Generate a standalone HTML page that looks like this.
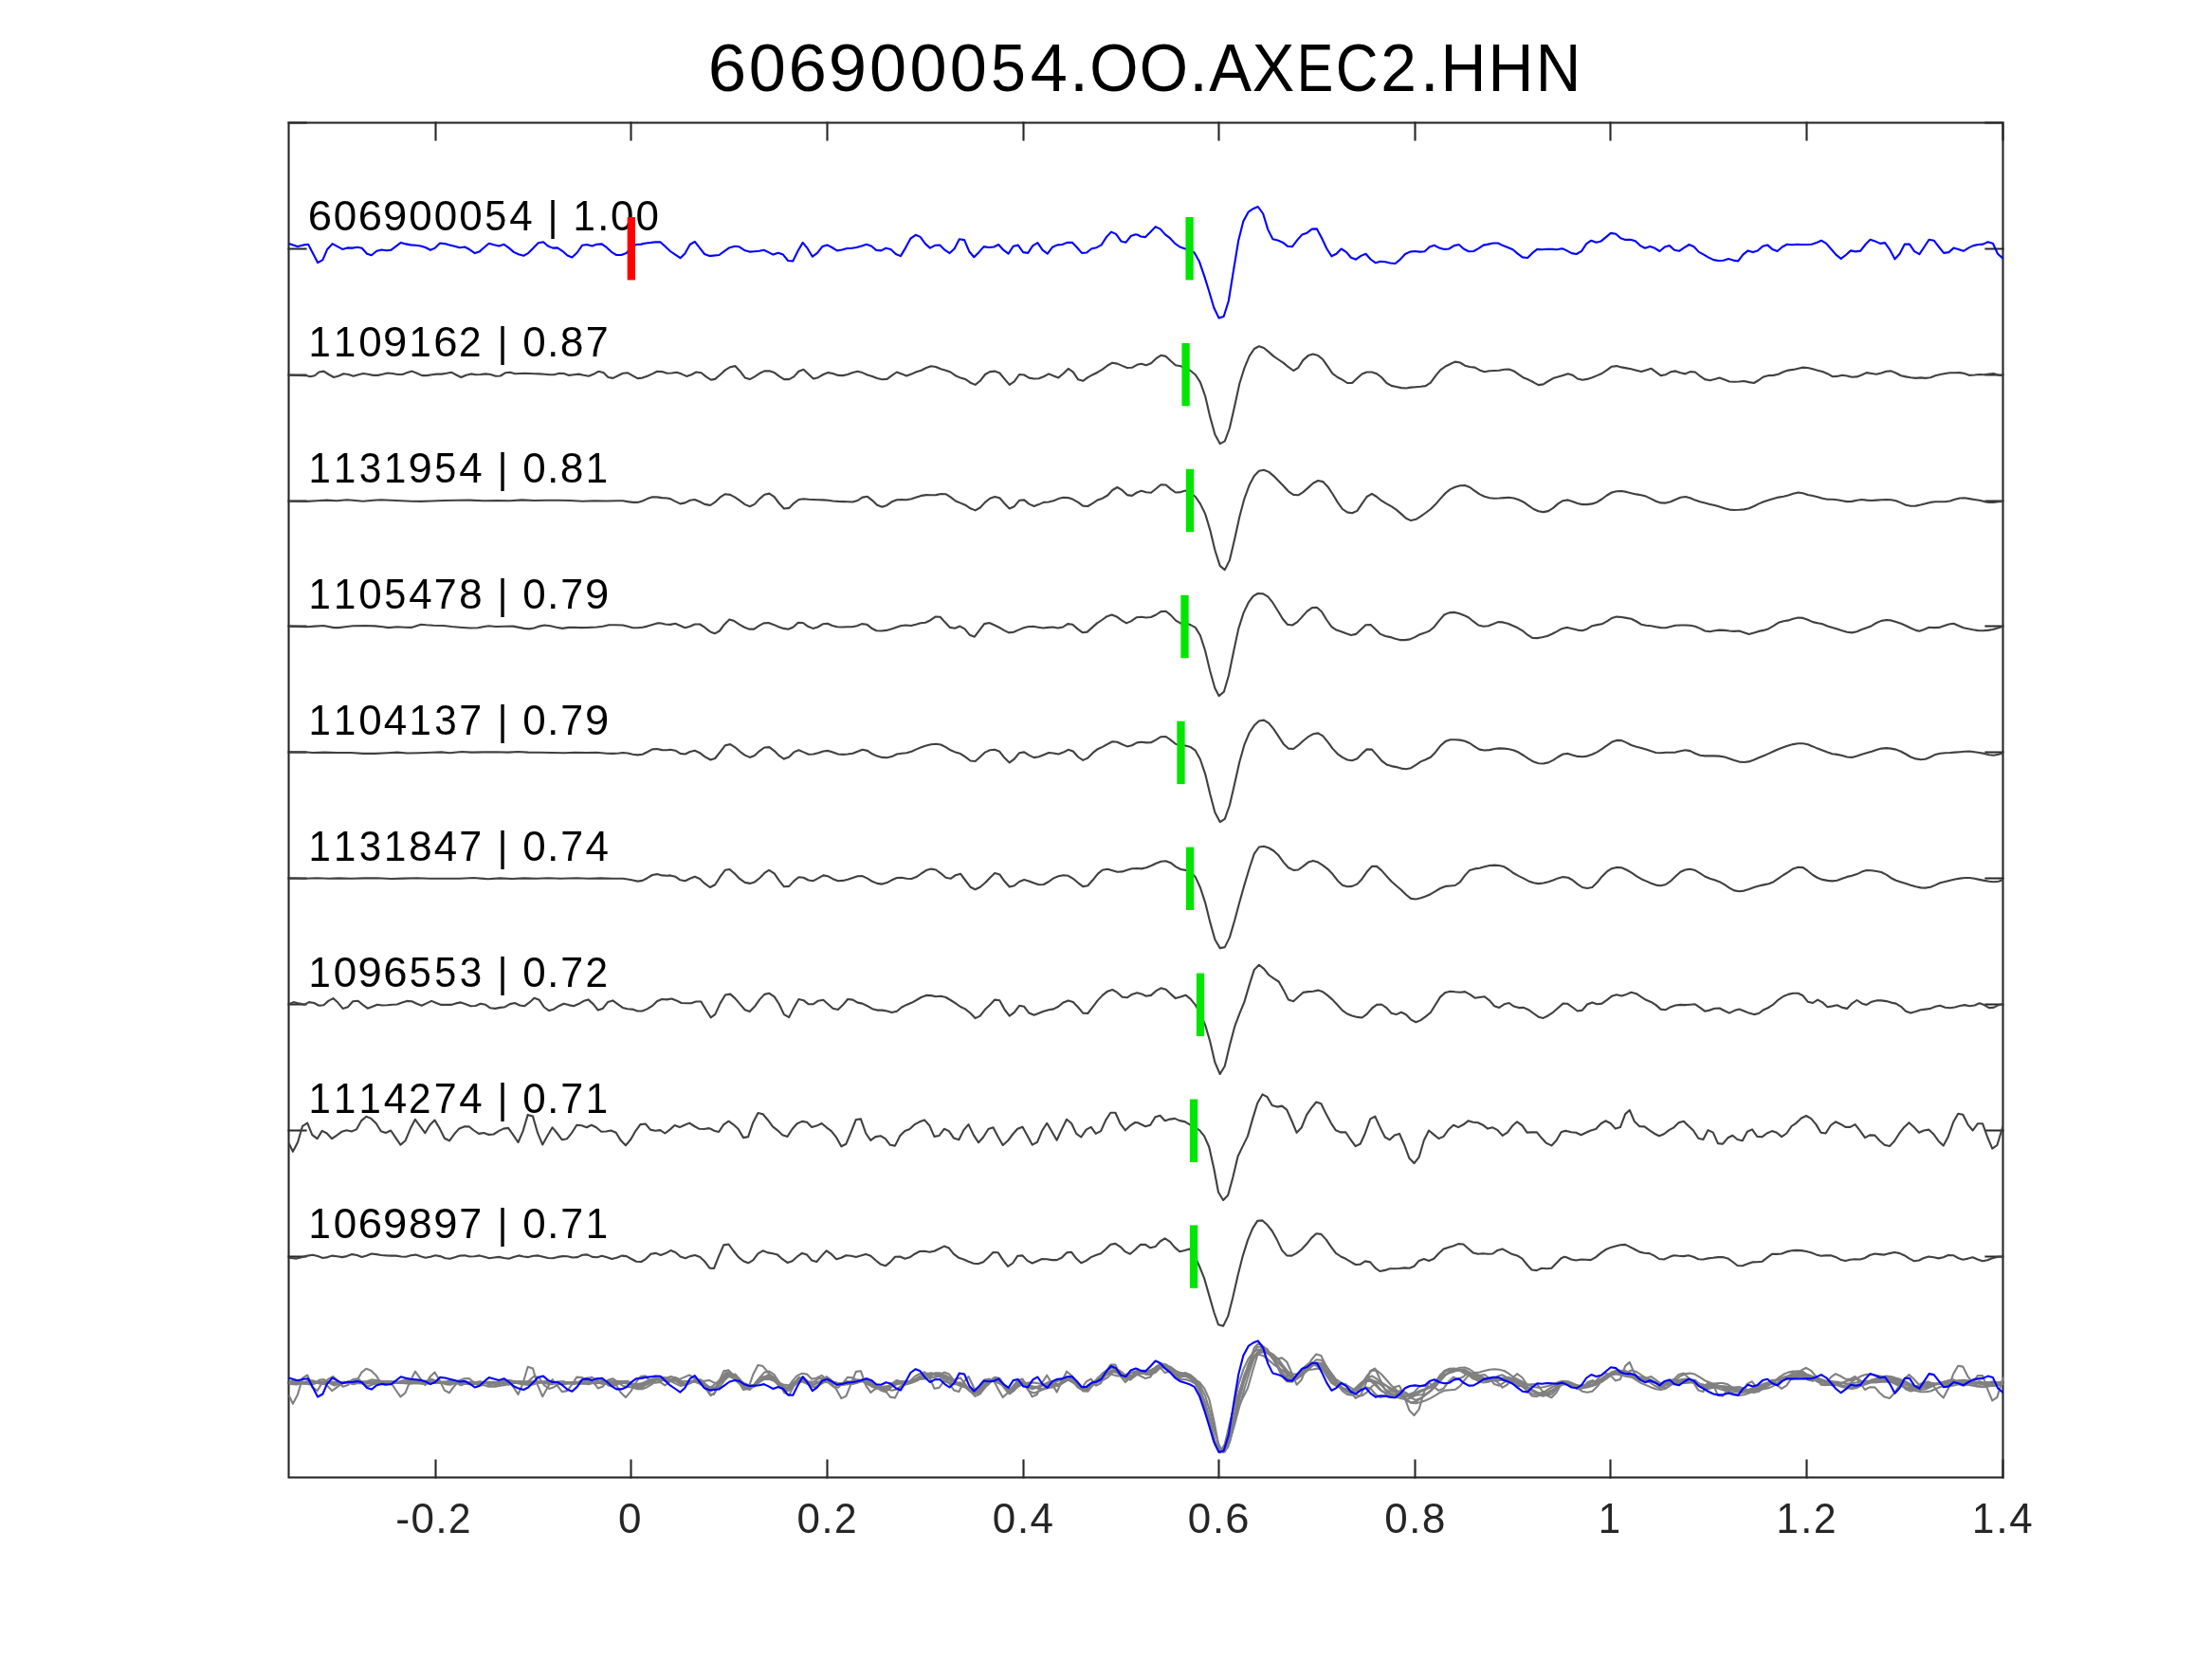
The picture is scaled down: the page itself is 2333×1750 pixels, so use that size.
<!DOCTYPE html>
<html lang="en">
<head>
<meta charset="utf-8">
<title>606900054.OO.AXEC2.HHN</title>
<style>
html,body{margin:0;padding:0;background:#fff;}
body{width:2333px;height:1750px;overflow:hidden;font-family:"Liberation Sans",sans-serif;}
svg{display:block;}
text{font-family:"Liberation Sans",sans-serif;}
.ax{stroke:#262626;stroke-width:2.1;fill:none;stroke-linecap:butt;}
.tl{fill:#262626;}
.lb{fill:#000;}
.tt{fill:#000;}
.g{stroke:#404040;stroke-width:2.1;fill:none;stroke-linejoin:round;stroke-linecap:butt;}
.b{stroke:#0000ff;stroke-width:2.1;fill:none;stroke-linejoin:round;stroke-linecap:butt;}
.o{stroke:#808080;stroke-width:2.1;fill:none;stroke-linejoin:round;stroke-linecap:butt;}
.gm{stroke:#00e600;stroke-width:8.3;fill:none;}
.rm{stroke:#ff0000;stroke-width:8.3;fill:none;}
</style>
</head>
<body>
<svg width="2333" height="1750" viewBox="0 0 2333 1750">
<rect x="0" y="0" width="2333" height="1750" fill="#ffffff"/>
<rect class="ax" x="304.5" y="129.5" width="1808.0" height="1429.0"/>
<path class="ax" d="M459.5 1559.5V1539.4M459.5 128.5V148.6M665.5 1559.5V1539.4M665.5 128.5V148.6M872.5 1559.5V1539.4M872.5 128.5V148.6M1079.5 1559.5V1539.4M1079.5 128.5V148.6M1285.5 1559.5V1539.4M1285.5 128.5V148.6M1492.5 1559.5V1539.4M1492.5 128.5V148.6M1698.5 1559.5V1539.4M1698.5 128.5V148.6M1905.5 1559.5V1539.4M1905.5 128.5V148.6M2112.5 1559.5V1539.4M2112.5 128.5V148.6M303.5 1458.5H323.6M2113.5 1458.5H2093.4M303.5 1325.5H323.6M2113.5 1325.5H2093.4M303.5 1192.5H323.6M2113.5 1192.5H2093.4M303.5 1059.5H323.6M2113.5 1059.5H2093.4M303.5 926.5H323.6M2113.5 926.5H2093.4M303.5 793.5H323.6M2113.5 793.5H2093.4M303.5 660.5H323.6M2113.5 660.5H2093.4M303.5 528.5H323.6M2113.5 528.5H2093.4M303.5 395.5H323.6M2113.5 395.5H2093.4M303.5 262.5H323.6M2113.5 262.5H2093.4M303.5 129.5H323.6M2113.5 129.5H2093.4"/>
<clipPath id="axclip"><rect x="304.5" y="129.5" width="1808.6" height="1429.0"/></clipPath>
<g clip-path="url(#axclip)">
<polyline class="g" points="304.7,395.7 323.4,396.3 327.2,397.2 331.9,396.3 336.5,392.5 341.4,391.6 346.7,395.0 352.1,398.0 357.4,396.5 362.3,394.2 367.6,395.0 372.7,396.7 378.0,395.2 383.1,394.0 388.2,394.8 393.5,395.9 398.6,395.9 403.7,394.8 408.8,393.5 414.1,394.0 419.2,395.0 424.5,395.0 429.6,393.1 434.7,391.6 440.0,393.8 445.1,396.1 450.2,396.1 455.5,395.2 460.6,394.6 465.7,394.6 471.0,393.8 476.1,392.7 481.2,395.5 486.3,398.0 491.7,395.7 496.8,394.4 501.9,395.2 507.2,395.0 512.3,394.4 517.4,395.0 522.7,396.7 527.8,396.5 532.9,393.3 538.0,392.7 543.3,394.2 548.4,394.0 553.5,393.8 558.8,394.0 563.9,394.2 569.0,394.4 574.3,394.8 579.4,395.2 584.5,395.2 589.8,393.8 594.9,394.0 600.0,395.9 605.3,395.2 610.4,394.6 615.5,395.7 620.8,396.7 625.9,394.8 631.0,391.8 636.4,393.1 641.5,398.0 646.6,398.9 651.9,396.3 657.0,393.8 662.1,393.3 667.4,396.3 672.5,399.1 677.6,398.6 682.7,396.7 688.0,394.4 693.1,391.8 698.2,392.1 703.5,393.8 708.6,393.5 713.7,392.7 719.0,394.6 724.1,396.9 729.2,395.2 734.3,392.5 739.6,393.3 744.7,397.4 749.8,400.6 754.2,399.9 759.6,395.2 764.9,390.4 770.2,387.2 775.3,386.1 780.4,391.4 785.7,398.4 790.8,400.1 795.9,397.4 801.2,393.8 806.3,391.4 811.4,391.2 816.7,393.1 821.8,396.9 826.9,400.1 832.2,400.1 837.3,397.4 842.4,391.8 847.5,389.7 852.8,394.8 857.9,399.5 863.0,398.2 868.3,395.0 873.4,393.1 878.5,394.0 883.9,395.9 889.0,396.1 894.1,395.0 899.4,393.1 904.5,391.8 909.6,393.1 914.9,395.5 920.0,396.9 925.1,398.9 930.4,400.3 935.5,399.9 940.6,396.1 945.9,392.5 951.0,394.4 956.1,396.5 961.4,394.6 966.5,392.3 971.6,390.8 976.9,388.0 982.0,386.3 987.1,387.0 992.4,389.3 997.5,390.8 1002.6,392.5 1007.9,396.3 1013.0,398.6 1018.1,399.9 1023.5,403.7 1028.6,405.9 1033.7,401.8 1039.0,395.0 1044.1,392.1 1049.2,391.6 1054.3,393.5 1059.6,399.9 1064.7,405.9 1069.8,402.3 1075.1,395.0 1080.2,395.5 1085.3,398.6 1090.6,399.5 1095.7,399.3 1100.8,397.2 1106.1,394.4 1111.2,396.5 1116.3,398.4 1121.6,394.0 1126.7,388.9 1131.8,392.3 1137.1,400.3 1142.2,401.8 1147.3,398.2 1152.6,395.2 1157.7,392.7 1162.8,389.7 1168.2,385.5 1173.3,382.7 1178.4,383.6 1183.7,385.9 1188.8,388.0 1193.9,387.8 1199.2,384.8 1203.8,383.8 1208.9,385.3 1214.0,383.3 1219.3,378.2 1224.4,374.8 1229.7,375.9 1234.8,380.8 1239.9,385.3 1245.3,386.3 1250.4,388.4 1255.5,391.0 1260.8,395.2 1265.9,403.1 1271.2,418.0 1276.3,439.9 1281.4,458.3 1286.7,468.1 1291.8,465.4 1296.9,451.5 1302.2,428.2 1307.3,404.8 1312.4,388.4 1317.7,375.7 1322.8,368.0 1327.9,365.3 1333.0,367.0 1338.3,371.4 1343.4,375.9 1348.7,379.5 1353.8,382.9 1358.9,387.2 1364.2,391.0 1369.3,387.8 1374.4,379.9 1379.8,375.1 1384.9,373.6 1390.2,375.1 1395.3,379.3 1400.4,386.7 1405.5,394.2 1410.8,398.0 1415.9,400.6 1421.0,404.0 1426.1,404.0 1431.4,399.1 1436.5,394.4 1441.6,392.5 1446.9,392.5 1452.0,394.2 1457.1,398.0 1462.4,404.0 1467.5,406.9 1472.6,408.0 1477.9,409.1 1483.0,409.5 1488.1,408.6 1493.4,408.2 1498.5,407.8 1503.6,407.1 1508.9,403.7 1514.0,396.7 1519.1,390.4 1524.5,386.5 1529.6,384.0 1534.7,381.6 1540.0,382.5 1545.1,385.7 1550.2,387.0 1555.5,387.6 1560.6,390.4 1565.7,392.3 1571.0,391.2 1576.1,391.0 1581.2,390.8 1586.5,389.7 1591.6,389.5 1596.7,391.4 1602.0,395.2 1607.1,398.6 1612.2,400.6 1617.5,403.3 1622.6,406.1 1627.7,405.4 1633.0,402.0 1638.1,399.1 1643.2,397.6 1648.5,395.9 1653.8,394.2 1658.5,395.7 1663.8,399.5 1668.9,400.8 1674.0,399.9 1679.3,398.2 1684.4,396.1 1689.5,394.0 1694.8,390.4 1699.9,386.7 1705.0,386.1 1710.3,387.4 1715.4,388.4 1720.5,389.3 1725.9,390.8 1731.0,392.1 1736.1,390.4 1741.4,388.7 1746.5,392.3 1751.6,396.1 1756.9,395.2 1762.0,392.3 1767.1,391.4 1772.4,393.3 1777.5,394.4 1782.6,392.1 1787.9,392.5 1793.0,396.7 1798.1,400.1 1803.4,401.2 1808.5,399.9 1813.6,398.6 1818.9,400.6 1824.0,402.5 1829.1,402.7 1834.4,402.5 1839.5,402.0 1844.6,403.1 1849.9,404.0 1855.0,401.0 1860.1,397.4 1865.5,396.1 1870.6,395.9 1875.7,394.8 1881.0,392.3 1886.1,390.6 1891.2,389.9 1896.5,388.7 1901.6,387.6 1906.7,388.0 1912.0,389.3 1917.1,390.8 1922.2,392.1 1927.5,394.2 1932.6,397.2 1937.7,396.9 1943.0,395.7 1948.1,396.5 1953.2,397.8 1958.5,397.4 1963.6,395.5 1968.7,393.1 1974.0,394.0 1979.1,394.8 1984.2,393.5 1989.5,391.8 1994.6,391.4 1999.7,393.5 2005.0,396.3 2010.1,397.4 2015.2,398.2 2020.6,398.9 2025.7,398.4 2030.8,398.9 2036.1,398.2 2041.2,396.3 2046.3,395.0 2051.6,394.0 2056.7,393.3 2061.8,393.3 2067.1,393.1 2072.2,394.0 2077.3,395.9 2082.6,395.5 2087.7,395.0 2092.8,395.2 2097.9,394.6 2102.6,394.0 2107.9,395.7 2112.8,396.3"/>
<polyline class="g" points="304.7,528.7 323.4,528.9 334.0,528.2 344.6,527.6 355.2,528.2 365.9,527.2 372.2,527.8 382.9,528.7 393.5,527.8 402.0,527.2 412.6,527.8 423.2,528.2 433.9,528.7 444.5,528.9 455.1,528.5 467.9,528.0 480.6,527.8 495.5,527.6 510.4,528.2 525.2,528.0 538.0,528.2 550.7,527.4 563.5,528.0 576.2,527.8 589.0,527.8 601.7,528.0 614.5,528.7 627.2,528.2 640.0,528.5 650.6,528.2 657.0,528.2 662.1,529.1 667.4,529.9 672.5,529.9 677.6,528.5 682.7,526.1 688.0,524.2 693.1,524.4 698.2,525.1 703.5,525.5 706.9,526.1 712.2,528.9 717.5,531.4 722.6,530.4 727.7,527.8 732.8,527.0 738.1,529.3 743.2,531.9 748.3,532.9 750.0,532.5 754.2,529.7 759.6,524.4 764.9,521.2 770.2,521.9 775.3,524.6 780.4,528.2 785.7,532.1 790.8,534.2 795.9,531.9 801.2,526.1 806.3,521.7 811.4,520.6 816.7,524.2 821.8,531.0 826.9,536.5 832.2,535.9 837.3,530.8 842.4,527.0 847.5,526.3 852.8,526.8 857.9,527.0 863.0,527.2 868.3,527.4 873.4,527.8 878.5,528.5 883.9,528.9 889.0,529.1 894.1,529.3 899.4,529.5 904.5,528.0 909.6,524.6 914.9,523.8 920.0,527.8 925.1,532.7 930.4,534.8 935.5,532.9 940.6,529.3 945.9,527.2 951.0,527.0 956.1,527.2 961.4,526.3 966.5,524.6 971.6,522.9 976.9,522.1 982.0,522.3 987.1,522.1 992.4,521.0 997.5,521.2 1002.6,524.4 1007.9,528.5 1013.0,530.6 1018.1,532.7 1023.5,536.3 1028.6,538.4 1033.7,535.5 1039.0,529.9 1044.1,525.7 1049.2,524.0 1054.3,525.3 1059.6,531.2 1064.7,536.5 1069.8,534.2 1075.1,527.8 1080.2,527.4 1085.3,531.6 1090.6,534.0 1095.7,532.1 1100.8,529.9 1106.1,529.5 1111.2,528.2 1116.3,526.1 1121.6,524.8 1126.7,525.1 1131.8,526.8 1137.1,529.9 1142.2,533.6 1147.3,534.0 1152.6,530.8 1157.7,527.4 1162.8,525.7 1168.2,522.5 1173.3,517.0 1178.4,514.0 1183.7,517.2 1188.8,522.1 1193.9,522.9 1199.2,519.5 1203.8,517.8 1208.9,519.3 1214.0,519.7 1219.3,515.5 1224.4,511.2 1229.7,511.5 1234.8,515.9 1239.9,519.5 1245.3,519.1 1250.4,517.6 1255.5,519.7 1260.8,524.0 1265.9,531.4 1271.2,542.1 1276.3,559.1 1281.4,580.3 1286.7,596.9 1291.8,601.1 1296.9,590.9 1302.2,568.6 1307.3,545.2 1312.4,526.1 1317.7,511.7 1322.8,501.9 1327.9,496.8 1333.0,495.7 1338.3,497.9 1343.4,502.1 1348.7,507.4 1353.8,512.7 1358.9,518.3 1364.2,521.9 1369.3,522.3 1374.4,519.1 1379.8,514.4 1384.9,509.8 1390.2,507.0 1395.3,508.1 1400.4,513.4 1405.5,521.0 1410.8,529.9 1415.9,537.0 1421.0,540.4 1426.1,541.2 1431.4,538.9 1436.5,531.4 1441.6,524.0 1446.9,520.8 1452.0,524.0 1457.1,528.2 1462.4,531.4 1467.5,534.2 1472.6,537.6 1477.9,542.1 1483.0,546.7 1488.1,549.1 1493.4,547.8 1498.5,544.6 1503.6,541.0 1508.9,537.0 1514.0,532.1 1519.1,526.1 1524.5,520.2 1529.6,516.1 1534.7,513.8 1540.0,512.3 1545.1,512.1 1550.2,514.0 1555.5,517.8 1560.6,521.4 1565.7,523.8 1571.0,525.3 1576.1,525.7 1581.2,525.5 1586.5,525.1 1591.6,524.8 1596.7,525.5 1602.0,527.2 1607.1,529.7 1612.2,533.3 1617.5,537.0 1622.6,539.3 1627.7,540.1 1633.0,539.1 1638.1,535.9 1643.2,531.4 1648.5,528.2 1653.8,527.4 1658.5,528.9 1663.8,531.0 1668.9,532.1 1674.0,532.1 1679.3,531.4 1684.4,529.7 1689.5,526.5 1694.8,522.5 1699.9,519.5 1705.0,518.3 1710.3,518.0 1715.4,518.9 1720.5,520.2 1725.9,521.4 1731.0,522.3 1736.1,523.6 1741.4,526.1 1746.5,528.7 1751.6,530.4 1756.9,530.6 1762.0,529.3 1767.1,527.0 1772.4,524.8 1777.5,524.0 1782.6,525.3 1787.9,527.6 1793.0,529.3 1798.1,530.6 1803.4,531.9 1808.5,533.1 1813.6,534.6 1818.9,536.3 1824.0,537.6 1829.1,538.0 1834.4,537.8 1839.5,537.4 1844.6,536.3 1849.9,534.0 1855.0,531.4 1860.1,529.3 1865.5,527.6 1870.6,525.9 1875.7,524.6 1881.0,523.8 1886.1,522.5 1891.2,520.8 1896.5,519.5 1901.6,520.2 1906.7,521.9 1912.0,523.1 1917.1,524.2 1922.2,525.7 1927.5,526.8 1932.6,526.8 1937.7,527.2 1943.0,528.2 1948.1,529.1 1953.2,528.9 1958.5,527.8 1963.6,527.0 1968.7,527.6 1974.0,528.0 1979.1,527.6 1984.2,527.2 1989.5,527.0 1994.6,527.2 1999.7,528.2 2005.0,530.4 2010.1,532.7 2015.2,533.8 2020.6,533.6 2025.7,532.5 2030.8,531.2 2036.1,529.9 2041.2,529.3 2046.3,529.3 2051.6,529.3 2056.7,528.5 2061.8,526.8 2067.1,525.5 2072.2,525.3 2077.3,526.1 2082.6,527.0 2087.7,527.8 2092.8,529.1 2097.9,529.9 2102.6,529.9 2107.9,529.3 2112.8,528.9"/>
<polyline class="g" points="304.7,660.6 323.4,661.2 331.9,660.6 341.4,660.0 352.1,662.1 357.4,662.1 363.7,661.2 372.2,660.2 385.0,660.0 395.6,660.4 404.1,661.2 409.4,662.1 419.0,661.2 427.5,661.7 433.9,661.9 439.2,660.2 444.1,658.7 449.8,659.3 457.2,659.8 467.9,660.0 476.4,661.0 484.9,661.7 495.5,662.5 504.0,662.3 510.4,661.0 515.7,660.2 523.1,661.0 531.6,660.8 541.2,660.6 547.5,661.9 552.8,662.9 558.2,663.4 563.5,662.5 568.8,660.6 574.1,659.5 580.5,660.2 586.8,661.7 593.2,662.9 599.6,661.9 606.0,661.7 612.3,662.1 620.8,661.9 629.3,661.5 635.7,660.8 642.1,659.3 648.5,659.3 657.0,659.5 662.1,660.8 667.4,662.3 672.5,662.3 677.6,661.7 682.7,660.6 688.0,658.9 693.1,657.4 696.5,657.2 701.6,658.5 706.9,658.9 712.2,657.8 717.5,660.0 722.6,662.3 727.7,660.8 732.8,658.5 738.1,658.5 743.2,661.7 748.3,665.9 750.0,666.8 753.8,668.3 758.9,665.5 764.0,658.7 769.3,653.4 774.4,655.1 779.7,658.7 784.8,661.5 789.9,663.6 795.3,663.6 800.4,660.2 805.5,657.4 810.8,657.0 815.9,658.9 821.2,661.2 826.3,662.9 831.4,663.8 836.7,661.5 841.8,656.8 846.9,657.0 852.2,660.8 857.3,662.9 862.4,661.5 867.7,658.3 872.8,657.8 877.9,660.0 883.0,661.2 888.3,661.5 893.4,661.2 898.7,661.2 903.8,660.2 908.9,658.1 914.2,658.7 919.3,662.7 924.4,665.3 929.8,665.5 934.9,664.9 940.2,663.6 945.3,661.7 950.4,660.0 955.5,659.5 960.8,660.0 965.9,658.7 971.0,657.2 976.1,656.8 981.4,654.2 986.5,650.6 991.6,650.8 996.9,656.6 1002.0,661.9 1007.1,662.7 1012.4,660.6 1017.5,663.4 1022.6,669.7 1027.9,671.7 1033.0,664.9 1038.1,658.1 1043.4,657.0 1048.5,659.3 1053.6,661.7 1058.9,664.9 1064.0,667.4 1069.1,666.8 1074.5,664.4 1079.6,662.3 1084.7,661.0 1090.0,660.8 1095.1,661.7 1100.2,662.5 1105.5,661.9 1110.6,661.5 1115.7,662.5 1121.0,661.5 1126.1,658.1 1131.2,658.7 1136.5,663.4 1141.6,667.2 1146.7,666.6 1152.0,661.9 1157.1,657.4 1162.2,654.0 1167.5,650.2 1172.6,648.5 1177.7,650.4 1183.0,654.4 1188.1,657.4 1193.2,655.1 1198.5,651.3 1203.8,650.8 1208.9,651.5 1214.0,651.0 1219.3,648.5 1224.4,645.1 1229.7,644.7 1234.8,648.9 1239.9,654.4 1245.3,657.6 1250.4,657.4 1255.5,659.1 1260.8,661.9 1265.9,670.2 1271.2,686.7 1276.3,708.0 1281.4,726.0 1285.6,734.1 1290.9,729.7 1296.0,712.2 1301.1,687.2 1306.2,663.4 1311.6,646.4 1316.7,635.7 1321.7,628.9 1326.8,626.0 1332.2,626.4 1337.3,629.4 1342.4,635.7 1347.7,644.2 1352.8,652.7 1357.9,658.7 1363.0,659.5 1368.3,656.1 1373.4,650.6 1378.5,644.9 1383.8,641.1 1388.9,640.8 1394.0,645.3 1399.3,654.0 1404.4,661.2 1409.5,664.6 1414.6,666.3 1419.9,668.3 1425.0,670.0 1430.1,668.9 1435.4,664.0 1440.5,659.3 1445.6,659.1 1450.9,664.0 1456.0,668.9 1461.1,671.0 1466.4,672.1 1471.5,673.8 1476.6,675.1 1482.0,675.1 1487.1,674.4 1492.2,672.1 1497.5,669.3 1502.6,667.6 1507.7,665.5 1512.8,661.2 1518.1,654.4 1523.2,648.5 1528.3,646.4 1533.6,645.9 1538.7,647.0 1543.8,648.9 1549.1,651.5 1554.2,655.7 1559.3,659.5 1564.6,660.8 1569.7,660.2 1574.8,658.3 1580.1,656.1 1585.2,656.4 1590.3,657.8 1595.6,660.0 1600.7,662.3 1605.8,665.3 1611.1,669.7 1616.2,672.9 1621.3,673.1 1626.4,672.3 1631.8,671.0 1636.9,668.7 1642.0,666.1 1647.3,663.2 1650.0,662.5 1653.2,661.9 1658.5,663.2 1663.8,664.6 1668.9,665.3 1674.0,663.4 1679.3,660.2 1684.4,659.1 1689.5,658.3 1694.8,655.3 1699.9,652.1 1705.0,650.6 1710.3,651.0 1715.4,651.9 1720.5,652.7 1725.9,655.5 1731.0,658.7 1736.1,659.8 1741.4,660.2 1746.5,661.2 1751.6,662.1 1756.9,662.3 1762.0,661.0 1767.1,659.8 1772.4,659.5 1777.5,659.5 1782.6,659.8 1787.9,660.8 1793.0,662.9 1798.1,665.5 1803.4,666.3 1808.5,665.3 1813.6,664.6 1818.9,664.9 1824.0,665.5 1829.1,665.9 1834.4,665.5 1839.5,667.2 1844.6,668.9 1849.9,667.6 1855.0,665.9 1860.1,664.9 1865.5,663.2 1870.6,660.2 1875.7,656.8 1881.0,655.3 1886.1,654.4 1891.2,652.7 1896.5,651.5 1901.6,651.9 1906.7,653.8 1912.0,656.1 1917.1,657.2 1922.2,658.3 1927.5,660.4 1932.6,662.1 1937.7,663.6 1943.0,665.3 1948.1,666.8 1953.2,667.4 1958.5,666.3 1963.6,664.0 1968.7,662.3 1974.0,660.2 1979.1,657.0 1984.2,654.9 1989.5,654.0 1994.6,654.4 1999.7,656.1 2005.0,657.8 2010.1,660.0 2015.2,662.5 2020.6,664.9 2024.4,665.7 2029.5,664.0 2034.6,661.7 2039.7,662.1 2045.0,661.9 2050.1,660.2 2055.4,658.5 2060.5,657.8 2065.6,660.0 2070.9,662.3 2076.0,663.2 2081.1,664.2 2086.4,665.1 2091.5,665.3 2096.6,664.9 2101.9,664.0 2107.0,662.5 2112.8,660.8"/>
<polyline class="g" points="304.7,793.4 321.2,793.2 329.7,794.0 342.5,793.6 355.2,794.0 370.1,794.0 382.9,794.9 395.6,794.9 408.4,794.2 419.0,793.6 429.6,794.5 442.4,794.2 455.1,793.8 465.7,793.4 474.2,794.2 487.0,793.0 497.6,793.6 510.4,793.4 523.1,793.2 535.8,793.6 546.5,793.0 557.1,793.6 569.8,793.8 582.6,794.0 595.3,794.2 606.0,793.8 618.7,794.0 629.3,793.8 640.0,794.7 646.3,794.9 652.7,794.5 657.0,794.0 662.1,794.5 667.4,795.7 672.5,796.4 677.6,795.7 682.7,793.2 688.0,790.4 693.1,790.0 698.2,791.1 703.5,791.3 706.9,790.8 712.2,791.7 717.5,794.9 722.6,795.5 727.7,793.0 732.8,791.7 738.1,794.2 743.2,798.1 749.4,801.5 754.2,800.0 759.6,793.2 764.9,786.2 770.2,785.1 775.3,788.3 780.4,792.8 785.7,796.6 790.8,798.9 795.9,797.0 801.2,792.1 806.3,788.5 811.4,788.1 816.7,792.1 821.8,797.2 826.9,800.6 832.2,798.5 837.3,793.4 842.4,791.3 847.5,793.4 852.8,795.7 857.9,795.5 863.0,794.2 868.3,792.5 873.4,791.9 878.5,793.6 883.9,795.5 889.0,795.9 894.1,795.5 899.4,794.7 904.5,792.8 909.6,790.8 914.9,791.9 920.0,795.3 925.1,797.6 930.4,798.9 935.5,799.3 940.6,798.1 945.9,795.5 951.0,794.7 956.1,794.2 961.4,792.8 966.5,790.4 971.6,788.3 976.9,786.6 982.0,785.3 987.1,784.7 992.4,785.5 997.5,788.1 1002.6,791.3 1007.9,793.6 1013.0,795.1 1018.1,798.3 1023.5,802.5 1028.6,803.0 1033.7,798.5 1039.0,793.6 1044.1,791.3 1049.2,790.8 1054.3,792.8 1059.6,799.6 1064.7,804.4 1069.8,800.6 1075.1,794.2 1080.2,793.4 1085.3,796.6 1090.6,799.1 1095.7,798.3 1100.8,796.2 1106.1,794.0 1111.2,794.5 1116.3,795.5 1121.6,793.6 1126.7,790.8 1131.8,792.5 1137.1,798.5 1142.2,801.9 1147.3,799.6 1152.6,794.2 1157.7,790.2 1162.8,787.9 1168.2,784.9 1173.3,782.3 1178.4,782.8 1183.7,785.3 1188.8,787.4 1193.9,786.2 1199.2,783.4 1203.8,782.8 1208.9,783.4 1214.0,783.2 1219.3,780.4 1224.4,777.2 1229.7,777.0 1234.8,780.6 1239.9,784.7 1245.3,786.2 1250.4,786.6 1255.5,787.9 1260.8,791.7 1265.9,801.0 1271.2,816.6 1276.3,837.8 1281.4,856.9 1286.7,867.1 1291.8,863.9 1296.9,849.5 1302.2,826.5 1307.3,803.8 1312.4,785.7 1317.7,773.0 1322.8,765.3 1327.9,760.5 1333.0,759.6 1338.3,762.8 1343.4,769.2 1348.7,777.2 1353.8,784.9 1358.9,789.6 1364.2,790.0 1369.3,786.2 1374.4,781.5 1379.8,777.2 1384.9,774.3 1390.2,773.4 1395.3,776.4 1400.4,782.6 1405.5,789.6 1410.8,795.3 1415.9,798.9 1421.0,801.5 1426.1,802.3 1431.4,800.2 1436.5,794.9 1441.6,790.4 1446.9,790.6 1452.0,796.4 1457.1,802.3 1462.4,806.4 1467.5,808.1 1472.6,809.1 1477.9,810.6 1483.0,811.2 1488.1,810.2 1493.4,806.8 1498.5,803.4 1503.6,801.3 1508.9,798.7 1514.0,793.4 1519.1,786.8 1524.5,782.1 1529.6,780.2 1534.7,780.2 1540.0,780.6 1545.1,781.7 1550.2,784.0 1555.5,787.7 1560.6,790.6 1565.7,791.5 1571.0,791.1 1576.1,790.0 1581.2,789.4 1586.5,789.6 1591.6,790.2 1596.7,791.5 1602.0,793.8 1607.1,797.0 1612.2,800.4 1617.5,803.6 1622.6,805.3 1627.7,805.5 1633.0,804.4 1638.1,801.9 1643.2,798.5 1648.5,795.5 1653.8,794.9 1658.5,796.4 1663.8,797.9 1668.9,798.3 1674.0,797.6 1679.3,795.7 1684.4,793.4 1689.5,790.2 1694.8,786.4 1699.9,782.8 1705.0,780.9 1710.3,781.1 1715.4,783.4 1720.5,786.0 1725.9,787.7 1731.0,788.9 1736.1,790.4 1741.4,792.3 1746.5,794.0 1751.6,794.2 1756.9,793.8 1762.0,793.8 1767.1,793.6 1772.4,792.3 1777.5,791.3 1782.6,792.1 1787.9,794.7 1793.0,796.8 1798.1,797.4 1803.4,797.4 1808.5,797.4 1813.6,797.6 1818.9,798.5 1824.0,800.2 1829.1,802.1 1834.4,803.6 1839.5,804.0 1844.6,803.4 1849.9,801.5 1855.0,799.3 1860.1,797.2 1865.5,794.9 1870.6,792.5 1875.7,790.2 1881.0,788.3 1886.1,786.6 1891.2,785.1 1896.5,784.3 1901.6,784.3 1906.7,785.3 1912.0,787.4 1917.1,789.6 1922.2,791.5 1927.5,793.6 1932.6,795.3 1937.7,795.9 1943.0,797.0 1948.1,798.5 1953.2,798.9 1958.5,797.6 1963.6,795.7 1968.7,794.2 1974.0,792.8 1979.1,791.1 1984.2,789.6 1989.5,789.1 1994.6,789.6 1999.7,790.6 2005.0,792.8 2010.1,795.5 2015.2,798.5 2020.6,800.4 2025.7,801.3 2030.8,800.8 2036.1,798.5 2041.2,795.9 2046.3,794.7 2051.6,794.2 2056.7,794.0 2061.8,793.6 2067.1,793.2 2072.2,792.8 2077.3,792.5 2082.6,793.2 2087.7,794.0 2092.8,794.9 2097.9,796.2 2102.6,796.8 2107.9,795.7 2112.8,794.2"/>
<polyline class="g" points="304.7,926.4 321.2,926.8 334.0,926.2 346.7,926.8 357.4,926.4 370.1,926.8 385.0,926.4 397.7,926.2 412.6,927.0 425.4,926.6 440.2,926.2 453.0,926.8 467.9,926.8 484.9,926.8 499.7,926.0 514.6,927.2 527.4,926.4 540.1,927.0 552.8,926.4 565.6,926.8 578.3,926.2 591.1,926.8 608.1,926.2 620.8,926.8 633.6,926.4 646.3,926.8 657.0,926.8 662.1,927.5 667.4,928.5 672.5,929.6 677.6,928.9 682.7,926.2 688.0,923.0 693.1,922.1 698.2,923.4 703.5,923.8 706.9,923.4 712.2,924.7 717.5,928.3 722.6,929.2 727.7,926.8 732.8,924.7 738.1,927.0 743.2,931.9 748.8,936.0 754.2,933.2 759.6,924.7 764.9,917.7 769.5,917.0 775.3,921.9 780.4,927.2 785.7,930.9 790.8,931.9 795.9,930.4 801.2,926.2 806.3,920.9 811.0,917.9 816.7,921.3 821.8,928.9 826.9,935.3 832.2,934.9 837.3,929.4 842.4,925.3 847.5,925.8 852.8,928.5 857.9,929.2 863.0,926.4 868.3,923.4 873.4,924.3 878.5,927.2 883.9,929.2 889.0,928.9 894.1,927.7 899.4,926.0 904.5,924.3 909.6,924.1 914.9,926.6 920.0,929.8 925.1,931.9 930.4,932.6 935.5,931.1 940.6,928.3 945.9,926.0 951.0,925.8 956.1,926.8 961.4,927.0 966.5,925.1 971.6,921.5 976.9,918.1 982.0,916.6 987.1,917.5 992.4,921.3 997.5,925.8 1002.6,926.8 1007.9,923.2 1013.0,921.7 1018.1,928.5 1023.5,935.7 1028.6,938.3 1033.7,935.7 1039.0,931.3 1044.1,926.0 1049.2,921.1 1054.3,922.4 1059.6,929.8 1064.7,935.5 1069.8,934.3 1075.1,930.0 1080.2,928.1 1085.3,929.4 1090.6,931.5 1095.7,933.2 1100.8,933.0 1106.1,930.0 1111.2,926.4 1116.3,924.3 1121.6,923.2 1126.7,923.8 1131.8,926.8 1137.1,931.3 1142.2,935.1 1147.3,934.3 1152.6,928.3 1157.7,921.9 1162.8,917.7 1168.2,916.8 1173.3,918.3 1178.4,919.8 1183.7,919.4 1188.8,917.7 1193.9,916.2 1199.2,916.0 1203.8,916.4 1208.9,915.3 1214.0,913.2 1219.3,910.7 1224.4,908.8 1229.7,908.3 1234.8,910.2 1239.9,914.1 1245.3,917.0 1250.4,917.9 1255.5,919.4 1260.8,925.1 1265.9,936.2 1271.2,952.3 1276.3,972.9 1281.4,991.0 1286.7,1000.1 1291.8,999.1 1296.9,988.9 1302.2,970.8 1307.3,951.7 1312.4,933.6 1317.7,916.0 1322.8,900.7 1327.9,893.5 1333.0,892.8 1338.3,894.5 1343.4,897.5 1348.7,902.6 1353.8,909.6 1358.9,915.3 1364.2,917.9 1369.3,917.5 1374.4,913.9 1379.8,909.6 1384.9,907.9 1390.2,909.6 1395.3,912.8 1400.4,916.8 1405.5,922.1 1410.8,928.9 1415.9,933.8 1421.0,935.3 1426.1,934.9 1431.4,932.6 1436.5,927.2 1441.6,919.8 1446.9,913.9 1452.0,913.9 1457.1,918.1 1462.4,924.1 1467.5,929.8 1472.6,934.3 1477.9,938.7 1483.0,943.8 1488.1,947.9 1493.4,948.5 1498.5,947.2 1503.6,945.5 1508.9,943.2 1514.0,940.2 1519.1,937.0 1524.5,934.9 1529.6,934.5 1534.7,934.0 1540.0,930.4 1545.1,923.4 1550.2,917.9 1555.5,916.4 1560.6,915.8 1565.7,914.3 1571.0,913.0 1576.1,912.6 1581.2,913.0 1586.5,914.3 1591.6,917.5 1596.7,921.3 1602.0,924.1 1607.1,926.6 1612.2,929.4 1617.5,931.3 1622.6,932.1 1627.7,931.5 1633.0,930.2 1638.1,928.5 1643.2,926.4 1648.5,925.1 1653.8,925.8 1658.5,928.3 1663.8,932.6 1668.9,936.0 1674.0,937.0 1679.3,936.0 1684.4,931.1 1689.5,924.7 1694.8,919.4 1699.9,916.2 1705.0,914.9 1710.3,915.3 1715.4,917.5 1720.5,920.4 1725.9,924.1 1731.0,927.2 1736.1,929.4 1741.4,931.7 1746.5,933.6 1751.6,934.3 1756.9,933.0 1762.0,929.4 1767.1,924.5 1772.4,919.8 1777.5,917.5 1782.6,916.8 1787.9,918.1 1793.0,921.1 1798.1,924.5 1803.4,926.8 1808.5,928.3 1813.6,930.2 1818.9,933.2 1824.0,936.6 1829.1,939.4 1834.4,940.2 1839.5,939.6 1844.6,937.9 1849.9,936.0 1855.0,934.5 1860.1,933.4 1865.5,932.3 1870.6,930.2 1875.7,926.6 1881.0,923.0 1886.1,919.8 1891.2,916.4 1896.5,914.7 1901.6,915.1 1906.7,918.7 1912.0,923.0 1917.1,926.0 1922.2,927.9 1927.5,928.9 1932.6,929.4 1937.7,928.7 1943.0,926.8 1948.1,924.9 1953.2,923.8 1958.5,922.1 1963.6,919.6 1968.7,918.1 1974.0,918.3 1979.1,919.0 1984.2,920.0 1989.5,922.6 1994.6,926.2 1999.7,928.7 2005.0,930.4 2010.1,932.1 2015.2,933.8 2020.6,935.3 2025.7,936.4 2030.8,936.6 2036.1,935.7 2041.2,933.6 2046.3,931.3 2051.6,930.0 2056.7,928.7 2061.8,927.5 2067.1,926.6 2072.2,926.0 2077.3,926.0 2082.6,926.8 2087.7,927.9 2092.8,928.9 2097.9,929.8 2102.6,930.2 2107.9,929.8 2112.8,927.9"/>
<polyline class="g" points="304.7,1059.3 309.6,1057.1 314.9,1058.4 321.2,1059.7 325.9,1057.1 331.2,1058.0 336.5,1060.8 341.4,1060.3 346.3,1055.9 351.4,1053.1 356.3,1057.6 361.6,1063.9 366.9,1062.2 372.2,1056.3 377.6,1055.7 382.9,1060.1 387.8,1063.7 392.9,1061.8 398.0,1059.7 403.3,1060.5 408.4,1060.3 413.7,1059.7 418.8,1059.5 424.1,1057.6 429.2,1055.9 434.3,1056.3 439.6,1058.8 444.7,1060.8 449.8,1058.4 455.1,1055.9 460.2,1058.0 465.3,1059.9 470.6,1059.7 475.7,1059.9 480.8,1058.4 486.1,1057.4 491.2,1059.3 496.3,1061.2 501.6,1061.0 506.7,1058.8 511.8,1059.7 517.2,1063.3 522.3,1063.9 527.4,1062.9 532.7,1062.2 537.8,1059.1 542.9,1058.0 548.2,1060.5 553.3,1061.2 558.4,1057.4 563.5,1052.7 568.8,1054.8 573.9,1062.5 579.2,1066.1 584.3,1064.4 589.4,1061.2 594.5,1058.8 599.8,1060.1 604.9,1061.2 610.2,1059.1 615.3,1056.1 620.4,1054.4 625.7,1059.1 630.8,1065.6 635.9,1063.7 641.2,1056.9 646.3,1055.4 651.4,1059.1 656.7,1062.9 661.8,1064.2 666.9,1064.6 672.3,1066.5 677.4,1066.5 682.5,1064.4 687.8,1061.2 692.9,1056.3 698.0,1054.0 703.3,1054.4 708.4,1053.5 713.5,1055.4 718.6,1058.0 723.9,1058.2 729.0,1058.2 734.1,1056.5 739.4,1056.5 744.5,1065.0 749.6,1073.3 754.2,1070.1 759.6,1058.4 764.9,1049.5 770.2,1048.6 775.3,1053.1 780.4,1059.1 785.7,1065.2 790.8,1067.1 795.9,1061.8 801.2,1054.4 806.3,1048.9 811.4,1047.8 816.7,1051.4 821.8,1059.3 826.9,1070.1 832.2,1073.1 837.3,1062.9 842.4,1054.0 847.5,1055.2 852.8,1059.3 857.9,1059.1 863.0,1055.7 868.3,1054.8 873.4,1059.3 878.5,1063.7 883.9,1065.0 889.0,1060.1 894.1,1054.0 899.4,1054.6 904.5,1057.6 909.6,1058.6 914.9,1061.2 920.0,1064.2 925.1,1065.6 930.4,1065.6 935.5,1066.5 940.6,1068.0 945.9,1066.7 951.0,1062.5 956.1,1059.9 961.4,1057.8 966.5,1055.0 971.6,1052.0 976.9,1049.9 982.0,1050.1 987.1,1051.2 992.4,1050.8 997.5,1052.0 1002.6,1055.0 1007.9,1058.4 1013.0,1062.0 1018.1,1064.4 1023.5,1068.8 1028.6,1074.1 1033.7,1071.6 1039.0,1064.8 1044.1,1059.9 1049.2,1054.6 1054.3,1055.2 1059.6,1065.0 1064.7,1071.6 1069.8,1067.8 1075.1,1060.8 1080.2,1061.8 1085.3,1068.6 1090.6,1070.7 1095.7,1068.8 1100.8,1066.7 1106.1,1065.2 1111.2,1064.4 1116.3,1061.8 1121.6,1057.4 1126.7,1055.4 1131.8,1057.1 1137.1,1062.5 1142.2,1068.6 1147.3,1069.0 1152.6,1062.2 1157.7,1055.4 1162.8,1049.9 1168.2,1045.7 1173.3,1044.0 1178.4,1046.9 1183.7,1051.8 1188.8,1052.3 1193.9,1048.9 1199.2,1047.2 1203.8,1048.4 1208.9,1050.8 1214.0,1049.9 1219.3,1045.2 1224.4,1042.3 1229.7,1043.8 1234.8,1048.6 1239.9,1053.1 1245.3,1051.6 1250.4,1049.7 1255.5,1053.7 1260.8,1060.1 1265.9,1068.6 1271.2,1081.4 1276.3,1098.8 1281.4,1120.7 1286.7,1133.0 1291.8,1124.5 1296.9,1103.0 1302.2,1082.9 1307.3,1069.3 1312.4,1056.9 1317.7,1038.9 1322.8,1022.9 1327.9,1017.8 1333.0,1021.9 1338.3,1028.5 1343.4,1032.1 1348.7,1035.5 1353.8,1044.4 1358.9,1054.6 1364.2,1056.3 1369.3,1051.6 1374.4,1046.9 1379.8,1046.1 1384.9,1045.7 1390.2,1044.6 1395.3,1046.3 1400.4,1050.1 1405.5,1054.6 1410.8,1060.3 1415.9,1065.9 1421.0,1069.5 1426.1,1071.4 1431.4,1072.9 1436.5,1073.5 1441.6,1069.9 1446.9,1063.7 1452.0,1059.9 1457.1,1059.5 1462.4,1063.1 1467.5,1068.8 1472.6,1070.1 1477.9,1067.8 1483.0,1070.3 1488.1,1075.6 1493.4,1078.2 1498.5,1076.1 1503.6,1072.4 1508.9,1068.0 1514.0,1059.7 1519.1,1051.6 1524.5,1046.9 1529.6,1045.7 1534.7,1046.3 1540.0,1046.7 1545.1,1046.1 1550.2,1048.9 1555.5,1052.7 1560.6,1052.0 1565.7,1051.2 1571.0,1055.4 1576.1,1061.2 1581.2,1062.9 1586.5,1059.3 1591.6,1058.0 1596.7,1061.6 1602.0,1063.1 1607.1,1062.9 1612.2,1065.2 1617.5,1069.0 1622.6,1072.7 1627.7,1073.9 1633.0,1071.2 1638.1,1067.8 1643.2,1063.3 1648.5,1058.6 1653.4,1058.8 1658.5,1062.5 1663.8,1066.5 1668.9,1065.6 1674.0,1059.5 1679.3,1057.4 1684.4,1059.3 1689.5,1058.6 1694.8,1054.8 1699.9,1050.8 1705.0,1049.3 1710.3,1050.6 1715.4,1048.9 1720.5,1046.7 1725.9,1048.2 1731.0,1051.6 1736.1,1054.8 1741.4,1056.9 1746.5,1060.1 1751.6,1064.6 1756.9,1065.2 1762.0,1062.2 1767.1,1060.5 1772.4,1059.9 1777.5,1060.1 1782.6,1059.7 1787.9,1059.3 1793.0,1062.9 1798.1,1066.7 1803.4,1065.6 1808.5,1063.7 1813.6,1063.5 1818.9,1066.3 1824.0,1068.6 1829.1,1066.1 1834.4,1064.6 1839.5,1066.5 1844.6,1068.6 1849.9,1070.1 1855.0,1069.0 1860.1,1065.2 1865.5,1062.7 1870.6,1059.3 1875.7,1054.6 1881.0,1051.0 1886.1,1048.9 1891.2,1047.8 1896.5,1047.8 1901.6,1050.3 1906.7,1056.7 1912.0,1058.0 1917.1,1054.6 1922.2,1057.4 1927.5,1062.2 1932.6,1061.4 1937.7,1060.3 1943.0,1062.9 1948.1,1063.9 1953.2,1058.6 1958.5,1055.0 1963.6,1058.4 1968.7,1059.9 1974.0,1056.7 1979.1,1055.4 1984.2,1055.4 1989.5,1056.1 1994.6,1057.6 1999.7,1058.6 2005.0,1061.8 2010.1,1066.7 2015.2,1068.6 2020.6,1067.1 2025.7,1065.2 2030.8,1064.6 2036.1,1063.9 2041.2,1061.8 2046.3,1060.8 2051.6,1062.7 2056.7,1063.3 2061.8,1062.5 2067.1,1061.0 2072.2,1060.1 2077.3,1061.2 2082.6,1060.5 2087.7,1058.2 2092.8,1060.1 2097.9,1063.1 2102.6,1062.9 2107.9,1060.1 2112.8,1059.3"/>
<polyline class="g" points="304.7,1205.9 308.9,1214.8 314.0,1205.0 319.1,1187.8 324.2,1184.6 329.3,1197.2 334.6,1201.2 339.7,1192.9 344.8,1195.5 350.1,1201.2 355.2,1197.6 360.3,1193.8 365.7,1192.3 370.8,1193.5 375.9,1191.4 381.2,1182.1 386.3,1177.8 391.4,1179.9 396.7,1185.0 401.8,1193.3 406.9,1195.0 412.2,1192.5 417.3,1200.1 422.4,1207.6 427.5,1203.3 432.8,1190.6 437.9,1180.8 443.0,1187.8 448.3,1195.2 453.4,1186.7 458.5,1181.6 463.6,1190.1 468.9,1200.8 474.0,1203.3 479.1,1196.3 484.4,1190.4 489.5,1188.4 494.6,1188.2 499.9,1192.5 505.0,1195.9 510.4,1195.0 515.5,1196.9 520.6,1196.5 525.9,1193.1 531.0,1190.6 536.1,1189.9 541.4,1197.4 546.5,1205.0 551.6,1193.1 556.7,1175.9 562.0,1177.6 567.1,1195.2 572.2,1207.4 577.3,1198.2 582.6,1189.3 587.7,1195.5 592.8,1202.3 598.1,1201.2 603.2,1194.8 608.3,1186.7 613.6,1187.2 618.7,1189.3 623.8,1186.7 628.9,1189.3 634.2,1193.8 639.3,1193.5 644.4,1192.5 649.7,1194.8 654.8,1203.1 659.9,1208.2 665.2,1202.0 670.3,1193.1 675.4,1186.1 680.8,1185.5 685.9,1191.6 691.0,1192.7 696.3,1192.1 701.4,1195.5 706.5,1191.6 711.6,1187.0 716.9,1189.1 722.0,1186.7 727.1,1184.6 732.4,1188.0 737.5,1190.8 742.6,1191.0 747.9,1190.1 750.0,1191.0 753.0,1192.7 758.1,1194.0 763.2,1186.3 768.5,1182.7 773.6,1186.3 778.7,1191.0 784.0,1200.1 789.1,1199.1 794.2,1184.2 799.5,1174.0 804.6,1175.3 809.7,1181.2 815.0,1188.4 820.1,1192.3 825.2,1197.2 830.5,1198.9 835.6,1191.0 840.7,1185.3 846.0,1182.9 851.1,1183.8 856.2,1188.9 861.3,1187.6 866.7,1185.0 871.7,1189.3 876.8,1193.1 882.2,1199.9 887.3,1209.3 892.4,1206.7 897.7,1193.8 902.8,1181.0 907.9,1180.4 913.2,1195.5 918.3,1202.9 923.4,1199.1 928.7,1198.2 933.8,1201.2 938.9,1207.8 944.0,1208.6 949.3,1198.0 954.4,1192.9 959.5,1191.0 964.8,1186.1 969.9,1183.3 975.0,1181.4 980.3,1187.2 985.4,1198.9 990.5,1198.0 995.8,1190.8 1000.9,1193.1 1006.0,1200.6 1011.3,1202.3 1016.4,1192.1 1021.5,1186.1 1026.9,1197.4 1032.0,1205.2 1037.1,1199.5 1042.4,1191.0 1047.5,1189.3 1052.6,1199.1 1057.7,1208.0 1063.0,1203.3 1068.1,1196.5 1073.2,1190.8 1078.5,1188.7 1083.6,1198.0 1088.7,1207.6 1094.0,1204.8 1099.1,1192.7 1104.2,1184.8 1109.5,1193.8 1114.6,1202.7 1119.7,1191.6 1125.0,1180.8 1130.1,1185.0 1135.2,1195.9 1140.3,1199.5 1145.6,1191.6 1150.7,1188.9 1155.8,1195.9 1161.1,1193.1 1166.2,1181.6 1171.3,1173.8 1176.4,1173.8 1181.8,1185.7 1186.9,1192.3 1192.0,1187.4 1197.3,1184.0 1200.0,1184.2 1203.0,1185.7 1208.1,1188.2 1213.2,1186.7 1218.5,1178.2 1223.6,1176.8 1228.7,1182.3 1234.0,1180.6 1239.1,1179.9 1244.2,1182.1 1249.5,1183.1 1254.6,1186.1 1259.7,1189.3 1265.0,1192.1 1270.1,1198.4 1275.2,1209.7 1280.5,1233.5 1285.0,1257.5 1290.1,1266.0 1295.2,1260.7 1300.3,1242.0 1305.6,1219.7 1310.7,1209.1 1316.0,1198.4 1321.1,1180.4 1326.2,1163.8 1331.5,1154.4 1336.6,1157.2 1341.7,1166.1 1347.0,1167.6 1352.1,1166.6 1357.2,1170.6 1362.5,1182.5 1367.6,1194.8 1372.7,1189.5 1378.1,1176.1 1383.2,1168.7 1388.3,1162.5 1393.4,1164.2 1398.7,1175.1 1403.8,1184.6 1408.9,1192.3 1414.2,1194.4 1419.3,1194.2 1424.4,1202.0 1429.7,1209.1 1434.8,1206.5 1439.9,1195.2 1445.2,1180.4 1450.3,1177.6 1455.4,1188.9 1460.7,1199.5 1465.8,1202.3 1470.9,1197.4 1476.0,1195.9 1481.3,1208.0 1486.4,1221.8 1491.5,1227.1 1496.6,1220.7 1501.9,1202.7 1507.0,1192.5 1512.3,1196.9 1517.4,1201.0 1522.5,1198.9 1527.9,1191.4 1533.0,1186.7 1538.1,1189.1 1543.4,1186.3 1548.5,1182.3 1553.6,1183.8 1558.9,1184.2 1564.0,1186.7 1569.1,1190.6 1574.4,1189.3 1579.5,1192.1 1584.6,1197.8 1589.9,1194.6 1595.0,1187.8 1600.1,1183.3 1605.4,1187.2 1610.5,1194.6 1615.6,1194.4 1620.7,1194.2 1626.0,1200.6 1631.1,1205.9 1636.4,1208.4 1641.5,1203.1 1646.6,1194.2 1650.0,1193.1 1652.1,1192.9 1657.2,1194.2 1662.3,1194.8 1667.6,1197.2 1672.7,1194.8 1677.8,1192.5 1683.1,1191.0 1688.2,1185.5 1693.3,1182.3 1698.7,1185.0 1703.8,1190.6 1708.9,1189.1 1714.2,1175.1 1718.8,1171.0 1723.9,1183.1 1729.3,1188.2 1734.4,1188.4 1739.5,1192.1 1744.8,1195.7 1749.9,1198.2 1755.0,1196.3 1760.3,1192.1 1765.4,1189.3 1770.5,1184.2 1775.8,1182.7 1780.9,1187.8 1786.0,1192.5 1791.3,1200.8 1796.4,1202.0 1801.5,1192.1 1806.8,1194.6 1811.9,1206.1 1817.0,1206.7 1822.3,1200.3 1827.4,1197.8 1832.5,1202.0 1837.8,1203.3 1842.9,1193.8 1848.0,1191.4 1853.3,1198.9 1858.4,1199.3 1863.5,1195.5 1868.9,1193.1 1874.0,1194.8 1879.1,1199.1 1884.4,1195.5 1889.5,1188.0 1894.6,1184.6 1899.9,1179.5 1905.0,1177.0 1910.1,1179.9 1915.4,1186.1 1920.5,1194.8 1925.6,1195.5 1930.9,1187.0 1936.0,1183.3 1941.1,1185.7 1946.4,1188.9 1951.5,1188.9 1956.6,1186.1 1961.9,1192.9 1967.0,1200.1 1972.1,1197.4 1977.4,1197.6 1982.5,1203.3 1987.6,1207.8 1992.9,1209.1 1998.0,1203.7 2003.1,1195.7 2008.4,1188.9 2013.5,1184.2 2018.6,1188.9 2024.0,1194.8 2029.1,1192.5 2034.2,1191.6 2039.5,1196.5 2044.6,1203.7 2049.7,1208.6 2054.8,1198.9 2060.1,1183.8 2065.2,1174.8 2070.3,1175.7 2075.6,1186.3 2080.7,1192.5 2085.8,1185.3 2091.1,1185.3 2096.2,1199.5 2101.3,1211.6 2106.4,1208.0 2112.8,1186.7"/>
<polyline class="g" points="304.7,1326.8 312.7,1327.6 319.1,1326.1 324.4,1324.6 329.7,1323.8 335.1,1325.1 340.4,1327.0 345.7,1326.1 350.4,1324.6 355.7,1325.3 360.8,1326.1 365.9,1325.1 371.2,1323.1 376.5,1324.0 381.6,1325.9 386.7,1324.4 391.8,1322.5 397.1,1323.1 402.2,1324.0 407.5,1324.4 412.6,1324.6 417.7,1324.6 423.0,1325.5 428.1,1325.7 433.2,1324.2 438.5,1323.6 443.6,1325.3 448.7,1326.8 454.0,1325.7 459.1,1324.2 464.2,1325.1 469.6,1327.2 474.7,1327.8 479.8,1326.3 485.1,1324.6 490.2,1324.2 495.3,1325.5 500.6,1325.3 505.7,1324.4 510.8,1325.7 516.1,1327.2 521.2,1326.5 526.3,1325.9 531.6,1327.0 536.7,1327.8 541.8,1326.1 547.1,1324.4 552.2,1325.5 557.3,1326.1 562.6,1324.8 567.7,1324.4 572.8,1325.7 578.1,1327.0 583.2,1327.2 588.3,1325.9 593.6,1325.1 598.7,1325.3 603.8,1326.5 609.2,1326.1 614.3,1323.8 619.4,1323.4 624.7,1325.9 629.8,1326.3 634.9,1324.8 640.2,1326.3 645.3,1328.0 650.4,1326.8 655.7,1324.6 660.8,1325.1 665.9,1328.0 671.2,1330.8 676.3,1331.0 681.4,1327.8 686.5,1322.7 691.8,1321.9 696.9,1324.0 702.0,1322.1 707.3,1319.1 712.4,1321.0 717.5,1325.5 722.8,1327.2 727.9,1325.1 733.0,1324.0 738.3,1326.1 743.4,1330.8 748.5,1337.6 753.0,1338.0 758.1,1325.1 763.2,1313.4 768.5,1312.5 773.6,1319.5 778.7,1325.9 784.0,1330.2 789.1,1332.3 794.2,1329.3 799.5,1322.3 804.6,1319.3 809.7,1321.4 815.0,1322.3 820.1,1323.6 825.2,1328.2 830.5,1331.9 835.6,1330.2 840.7,1325.7 846.0,1321.9 851.1,1323.6 856.2,1329.5 861.3,1331.0 866.7,1324.6 871.7,1319.3 876.8,1322.9 882.2,1328.2 887.3,1326.8 892.4,1324.2 897.7,1324.8 902.8,1326.1 907.9,1324.6 913.2,1322.9 918.3,1324.8 923.4,1329.3 928.7,1333.6 933.8,1335.3 938.9,1331.4 944.0,1325.7 949.3,1325.5 954.4,1327.8 959.5,1326.3 964.8,1322.7 969.9,1320.0 975.0,1319.7 980.3,1320.8 985.4,1319.7 990.5,1317.2 995.8,1314.6 1000.9,1316.6 1006.0,1322.9 1011.3,1326.8 1016.4,1328.5 1021.5,1330.8 1026.9,1332.7 1032.0,1333.1 1037.1,1331.2 1042.4,1326.3 1047.5,1321.0 1052.6,1321.2 1057.7,1328.9 1063.0,1335.9 1068.1,1332.5 1073.2,1324.8 1078.5,1324.4 1083.6,1329.9 1088.7,1332.5 1094.0,1330.2 1099.1,1328.0 1104.2,1328.2 1109.5,1329.1 1114.6,1329.1 1119.7,1326.8 1125.0,1321.4 1130.1,1320.8 1135.2,1327.6 1140.3,1332.3 1145.6,1329.9 1150.7,1326.1 1155.8,1324.0 1161.1,1322.3 1166.2,1317.8 1171.3,1312.7 1176.4,1311.9 1181.8,1315.3 1186.9,1320.4 1192.0,1322.7 1197.3,1318.3 1200.0,1315.5 1203.0,1312.9 1208.1,1312.9 1213.2,1316.3 1218.5,1315.1 1223.6,1309.5 1228.7,1306.4 1234.0,1309.8 1239.1,1315.9 1244.2,1320.2 1249.5,1318.9 1254.6,1317.4 1259.7,1324.0 1265.0,1335.7 1270.1,1348.4 1275.2,1366.1 1280.5,1384.5 1285.0,1397.3 1290.1,1398.8 1295.2,1388.4 1300.3,1368.6 1305.6,1345.2 1310.7,1325.1 1316.0,1308.1 1321.1,1295.9 1326.2,1287.9 1331.5,1287.4 1336.6,1292.1 1341.7,1298.5 1347.0,1308.1 1352.1,1318.9 1357.2,1324.4 1362.5,1324.6 1367.6,1321.9 1372.7,1318.0 1378.1,1312.3 1383.2,1305.9 1388.3,1301.3 1393.4,1301.9 1398.7,1307.6 1403.8,1315.1 1408.9,1321.9 1414.2,1325.5 1419.3,1327.8 1424.4,1330.8 1429.7,1334.0 1434.8,1333.6 1439.9,1330.4 1445.2,1331.4 1450.3,1337.4 1455.4,1341.0 1460.7,1339.9 1465.8,1338.2 1470.9,1338.2 1476.0,1338.0 1481.3,1337.4 1486.4,1337.8 1491.5,1335.7 1496.6,1329.9 1501.9,1328.0 1507.0,1329.9 1512.3,1327.8 1517.4,1322.3 1522.5,1317.6 1527.9,1315.7 1533.0,1314.2 1538.1,1312.1 1543.4,1312.5 1548.5,1317.0 1553.6,1321.4 1558.9,1322.7 1564.0,1322.3 1569.1,1322.7 1574.4,1322.5 1579.5,1318.9 1584.6,1317.4 1589.9,1320.4 1595.0,1323.1 1600.1,1324.4 1605.4,1327.6 1610.5,1334.0 1615.6,1339.5 1620.7,1340.1 1626.0,1337.8 1631.1,1338.2 1636.4,1337.8 1641.5,1332.5 1646.6,1327.2 1650.0,1325.7 1652.1,1326.3 1657.2,1328.5 1662.3,1329.5 1667.6,1328.5 1672.7,1328.7 1677.8,1329.1 1683.1,1326.1 1688.2,1321.9 1693.3,1318.3 1698.7,1315.9 1703.8,1314.4 1708.9,1313.2 1714.2,1312.9 1718.8,1315.1 1723.9,1317.8 1729.3,1320.6 1734.4,1321.7 1739.5,1322.1 1744.8,1324.6 1749.9,1328.0 1755.0,1328.5 1760.3,1326.1 1765.4,1324.2 1770.5,1324.8 1775.8,1325.1 1780.9,1324.2 1786.0,1325.7 1791.3,1328.2 1796.4,1328.5 1801.5,1327.4 1806.8,1326.8 1811.9,1326.1 1817.0,1326.1 1822.3,1327.4 1827.4,1331.0 1832.5,1335.0 1837.8,1335.3 1842.9,1333.3 1848.0,1331.4 1853.3,1331.2 1858.4,1330.8 1863.5,1326.8 1868.9,1322.9 1874.0,1322.9 1879.1,1322.5 1884.4,1320.4 1889.5,1319.3 1894.6,1318.9 1899.9,1319.1 1905.0,1320.0 1910.1,1321.2 1915.4,1323.4 1920.5,1324.8 1925.6,1324.4 1930.9,1324.2 1936.0,1325.9 1941.1,1328.7 1946.4,1329.9 1951.5,1328.7 1956.6,1328.2 1961.9,1328.5 1967.0,1327.0 1972.1,1324.0 1977.4,1322.5 1982.5,1323.1 1987.6,1323.6 1992.9,1322.1 1998.0,1321.0 2003.1,1321.9 2008.4,1324.2 2013.5,1327.4 2018.6,1330.2 2024.0,1329.5 2029.1,1327.0 2034.2,1325.5 2039.5,1326.3 2044.6,1327.4 2049.7,1326.3 2054.8,1324.0 2060.1,1324.2 2065.2,1327.0 2070.3,1328.7 2075.6,1327.6 2080.7,1326.3 2085.8,1328.5 2091.1,1330.2 2096.2,1329.3 2101.3,1327.2 2106.4,1325.9 2112.8,1325.5"/>
<polyline class="o" points="304.7,1459.1 323.4,1459.7 327.2,1460.6 331.9,1459.7 336.5,1455.9 341.4,1455.1 346.7,1458.5 352.1,1461.4 357.4,1460.0 362.3,1457.6 367.6,1458.5 372.7,1460.2 378.0,1458.7 383.1,1457.4 388.2,1458.3 393.5,1459.3 398.6,1459.3 403.7,1458.3 408.8,1457.0 414.1,1457.4 419.2,1458.5 424.5,1458.5 429.6,1456.6 434.7,1455.1 440.0,1457.2 445.1,1459.5 450.2,1459.5 455.5,1458.7 460.6,1458.0 465.7,1458.0 471.0,1457.2 476.1,1456.1 481.2,1458.9 486.3,1461.4 491.7,1459.1 496.8,1457.8 501.9,1458.7 507.2,1458.5 512.3,1457.8 517.4,1458.5 522.7,1460.2 527.8,1460.0 532.9,1456.8 538.0,1456.1 543.3,1457.6 548.4,1457.4 553.5,1457.2 558.8,1457.4 563.9,1457.6 569.0,1457.8 574.3,1458.3 579.4,1458.7 584.5,1458.7 589.8,1457.2 594.9,1457.4 600.0,1459.3 605.3,1458.7 610.4,1458.0 615.5,1459.1 620.8,1460.2 625.9,1458.3 631.0,1455.3 636.4,1456.6 641.5,1461.4 646.6,1462.3 651.9,1459.7 657.0,1457.2 662.1,1456.8 667.4,1459.7 672.5,1462.5 677.6,1462.1 682.7,1460.2 688.0,1457.8 693.1,1455.3 698.2,1455.5 703.5,1457.2 708.6,1457.0 713.7,1456.1 719.0,1458.0 724.1,1460.4 729.2,1458.7 734.3,1455.9 739.6,1456.8 744.7,1460.8 749.8,1464.0 754.2,1463.4 759.6,1458.7 764.9,1453.8 770.2,1450.6 775.3,1449.5 780.4,1454.9 785.7,1461.9 790.8,1463.6 795.9,1460.8 801.2,1457.2 806.3,1454.9 811.4,1454.6 816.7,1456.6 821.8,1460.4 826.9,1463.6 832.2,1463.6 837.3,1460.8 842.4,1455.3 847.5,1453.2 852.8,1458.3 857.9,1462.9 863.0,1461.7 868.3,1458.5 873.4,1456.6 878.5,1457.4 883.9,1459.3 889.0,1459.5 894.1,1458.5 899.4,1456.6 904.5,1455.3 909.6,1456.6 914.9,1458.9 920.0,1460.4 925.1,1462.3 930.4,1463.8 935.5,1463.4 940.6,1459.5 945.9,1455.9 951.0,1457.8 956.1,1460.0 961.4,1458.0 966.5,1455.7 971.6,1454.2 976.9,1451.5 982.0,1449.8 987.1,1450.4 992.4,1452.7 997.5,1454.2 1002.6,1455.9 1007.9,1459.7 1013.0,1462.1 1018.1,1463.4 1023.5,1467.2 1028.6,1469.3 1033.7,1465.3 1039.0,1458.5 1044.1,1455.5 1049.2,1455.1 1054.3,1457.0 1059.6,1463.4 1064.7,1469.3 1069.8,1465.7 1075.1,1458.5 1080.2,1458.9 1085.3,1462.1 1090.6,1462.9 1095.7,1462.7 1100.8,1460.6 1106.1,1457.8 1111.2,1460.0 1116.3,1461.9 1121.6,1457.4 1126.7,1452.3 1131.8,1455.7 1137.1,1463.8 1142.2,1465.3 1147.3,1461.7 1152.6,1458.7 1157.7,1456.1 1162.8,1453.2 1168.2,1448.9 1173.3,1446.1 1178.4,1447.0 1183.7,1449.3 1188.8,1451.5 1193.9,1451.2 1199.2,1448.3 1203.8,1447.2 1208.9,1448.7 1214.0,1446.8 1219.3,1441.7 1224.4,1438.3 1229.7,1439.3 1234.8,1444.2 1239.9,1448.7 1245.3,1449.8 1250.4,1451.9 1255.5,1454.4 1260.8,1458.7 1265.9,1466.5 1271.2,1481.4 1276.3,1503.3 1281.4,1521.8 1286.7,1531.6 1291.8,1528.8 1296.9,1515.0 1302.2,1491.6 1307.3,1468.2 1312.4,1451.9 1317.7,1439.1 1322.8,1431.5 1327.9,1428.7 1333.0,1430.4 1338.3,1434.9 1343.4,1439.3 1348.7,1443.0 1353.8,1446.4 1358.9,1450.6 1364.2,1454.4 1369.3,1451.2 1374.4,1443.4 1379.8,1438.5 1384.9,1437.0 1390.2,1438.5 1395.3,1442.7 1400.4,1450.2 1405.5,1457.6 1410.8,1461.4 1415.9,1464.0 1421.0,1467.4 1426.1,1467.4 1431.4,1462.5 1436.5,1457.8 1441.6,1455.9 1446.9,1455.9 1452.0,1457.6 1457.1,1461.4 1462.4,1467.4 1467.5,1470.4 1472.6,1471.4 1477.9,1472.5 1483.0,1472.9 1488.1,1472.1 1493.4,1471.6 1498.5,1471.2 1503.6,1470.6 1508.9,1467.2 1514.0,1460.2 1519.1,1453.8 1524.5,1450.0 1529.6,1447.4 1534.7,1445.1 1540.0,1445.9 1545.1,1449.1 1550.2,1450.4 1555.5,1451.0 1560.6,1453.8 1565.7,1455.7 1571.0,1454.6 1576.1,1454.4 1581.2,1454.2 1586.5,1453.2 1591.6,1452.9 1596.7,1454.9 1602.0,1458.7 1607.1,1462.1 1612.2,1464.0 1617.5,1466.8 1622.6,1469.5 1627.7,1468.9 1633.0,1465.5 1638.1,1462.5 1643.2,1461.0 1648.5,1459.3 1653.8,1457.6 1658.5,1459.1 1663.8,1462.9 1668.9,1464.2 1674.0,1463.4 1679.3,1461.7 1684.4,1459.5 1689.5,1457.4 1694.8,1453.8 1699.9,1450.2 1705.0,1449.5 1710.3,1450.8 1715.4,1451.9 1720.5,1452.7 1725.9,1454.2 1731.0,1455.5 1736.1,1453.8 1741.4,1452.1 1746.5,1455.7 1751.6,1459.5 1756.9,1458.7 1762.0,1455.7 1767.1,1454.9 1772.4,1456.8 1777.5,1457.8 1782.6,1455.5 1787.9,1455.9 1793.0,1460.2 1798.1,1463.6 1803.4,1464.6 1808.5,1463.4 1813.6,1462.1 1818.9,1464.0 1824.0,1465.9 1829.1,1466.1 1834.4,1465.9 1839.5,1465.5 1844.6,1466.5 1849.9,1467.4 1855.0,1464.4 1860.1,1460.8 1865.5,1459.5 1870.6,1459.3 1875.7,1458.3 1881.0,1455.7 1886.1,1454.0 1891.2,1453.4 1896.5,1452.1 1901.6,1451.0 1906.7,1451.5 1912.0,1452.7 1917.1,1454.2 1922.2,1455.5 1927.5,1457.6 1932.6,1460.6 1937.7,1460.4 1943.0,1459.1 1948.1,1460.0 1953.2,1461.2 1958.5,1460.8 1963.6,1458.9 1968.7,1456.6 1974.0,1457.4 1979.1,1458.3 1984.2,1457.0 1989.5,1455.3 1994.6,1454.9 1999.7,1457.0 2005.0,1459.7 2010.1,1460.8 2015.2,1461.7 2020.6,1462.3 2025.7,1461.9 2030.8,1462.3 2036.1,1461.7 2041.2,1459.7 2046.3,1458.5 2051.6,1457.4 2056.7,1456.8 2061.8,1456.8 2067.1,1456.6 2072.2,1457.4 2077.3,1459.3 2082.6,1458.9 2087.7,1458.5 2092.8,1458.7 2097.9,1458.0 2102.6,1457.4 2107.9,1459.1 2112.8,1459.7"/>
<polyline class="o" points="304.7,1459.2 323.4,1459.4 334.0,1458.8 344.6,1458.1 355.2,1458.8 365.9,1457.7 372.2,1458.3 382.9,1459.2 393.5,1458.3 402.0,1457.7 412.6,1458.3 423.2,1458.8 433.9,1459.2 444.5,1459.4 455.1,1459.0 467.9,1458.5 480.6,1458.3 495.5,1458.1 510.4,1458.8 525.2,1458.5 538.0,1458.8 550.7,1457.9 563.5,1458.5 576.2,1458.3 589.0,1458.3 601.7,1458.5 614.5,1459.2 627.2,1458.8 640.0,1459.0 650.6,1458.8 657.0,1458.8 662.1,1459.6 667.4,1460.5 672.5,1460.5 677.6,1459.0 682.7,1456.6 688.0,1454.7 693.1,1454.9 698.2,1455.6 703.5,1456.0 706.9,1456.6 712.2,1459.4 717.5,1461.9 722.6,1460.9 727.7,1458.3 732.8,1457.5 738.1,1459.8 743.2,1462.4 748.3,1463.4 750.0,1463.0 754.2,1460.2 759.6,1454.9 764.9,1451.7 770.2,1452.4 775.3,1455.1 780.4,1458.8 785.7,1462.6 790.8,1464.7 795.9,1462.4 801.2,1456.6 806.3,1452.2 811.4,1451.1 816.7,1454.7 821.8,1461.5 826.9,1467.0 832.2,1466.4 837.3,1461.3 842.4,1457.5 847.5,1456.8 852.8,1457.3 857.9,1457.5 863.0,1457.7 868.3,1457.9 873.4,1458.3 878.5,1459.0 883.9,1459.4 889.0,1459.6 894.1,1459.8 899.4,1460.0 904.5,1458.5 909.6,1455.1 914.9,1454.3 920.0,1458.3 925.1,1463.2 930.4,1465.3 935.5,1463.4 940.6,1459.8 945.9,1457.7 951.0,1457.5 956.1,1457.7 961.4,1456.8 966.5,1455.1 971.6,1453.4 976.9,1452.6 982.0,1452.8 987.1,1452.6 992.4,1451.5 997.5,1451.7 1002.6,1454.9 1007.9,1459.0 1013.0,1461.1 1018.1,1463.2 1023.5,1466.8 1028.6,1469.0 1033.7,1466.0 1039.0,1460.5 1044.1,1456.2 1049.2,1454.5 1054.3,1455.8 1059.6,1461.7 1064.7,1467.0 1069.8,1464.7 1075.1,1458.3 1080.2,1457.9 1085.3,1462.2 1090.6,1464.5 1095.7,1462.6 1100.8,1460.5 1106.1,1460.0 1111.2,1458.8 1116.3,1456.6 1121.6,1455.4 1126.7,1455.6 1131.8,1457.3 1137.1,1460.5 1142.2,1464.1 1147.3,1464.5 1152.6,1461.3 1157.7,1457.9 1162.8,1456.2 1168.2,1453.0 1173.3,1447.5 1178.4,1444.5 1183.7,1447.7 1188.8,1452.6 1193.9,1453.4 1199.2,1450.0 1203.8,1448.3 1208.9,1449.8 1214.0,1450.3 1219.3,1446.0 1224.4,1441.8 1229.7,1442.0 1234.8,1446.4 1239.9,1450.0 1245.3,1449.6 1250.4,1448.1 1255.5,1450.3 1260.8,1454.5 1265.9,1461.9 1271.2,1472.6 1276.3,1489.6 1281.4,1510.8 1286.7,1527.4 1291.8,1531.6 1296.9,1521.4 1302.2,1499.1 1307.3,1475.8 1312.4,1456.6 1317.7,1442.2 1322.8,1432.4 1327.9,1427.3 1333.0,1426.2 1338.3,1428.4 1343.4,1432.6 1348.7,1437.9 1353.8,1443.2 1358.9,1448.8 1364.2,1452.4 1369.3,1452.8 1374.4,1449.6 1379.8,1444.9 1384.9,1440.3 1390.2,1437.5 1395.3,1438.6 1400.4,1443.9 1405.5,1451.5 1410.8,1460.5 1415.9,1467.5 1421.0,1470.9 1426.1,1471.7 1431.4,1469.4 1436.5,1461.9 1441.6,1454.5 1446.9,1451.3 1452.0,1454.5 1457.1,1458.8 1462.4,1461.9 1467.5,1464.7 1472.6,1468.1 1477.9,1472.6 1483.0,1477.2 1488.1,1479.6 1493.4,1478.3 1498.5,1475.1 1503.6,1471.5 1508.9,1467.5 1514.0,1462.6 1519.1,1456.6 1524.5,1450.7 1529.6,1446.6 1534.7,1444.3 1540.0,1442.8 1545.1,1442.6 1550.2,1444.5 1555.5,1448.3 1560.6,1452.0 1565.7,1454.3 1571.0,1455.8 1576.1,1456.2 1581.2,1456.0 1586.5,1455.6 1591.6,1455.4 1596.7,1456.0 1602.0,1457.7 1607.1,1460.2 1612.2,1463.9 1617.5,1467.5 1622.6,1469.8 1627.7,1470.7 1633.0,1469.6 1638.1,1466.4 1643.2,1461.9 1648.5,1458.8 1653.8,1457.9 1658.5,1459.4 1663.8,1461.5 1668.9,1462.6 1674.0,1462.6 1679.3,1461.9 1684.4,1460.2 1689.5,1457.1 1694.8,1453.0 1699.9,1450.0 1705.0,1448.8 1710.3,1448.6 1715.4,1449.4 1720.5,1450.7 1725.9,1452.0 1731.0,1452.8 1736.1,1454.1 1741.4,1456.6 1746.5,1459.2 1751.6,1460.9 1756.9,1461.1 1762.0,1459.8 1767.1,1457.5 1772.4,1455.4 1777.5,1454.5 1782.6,1455.8 1787.9,1458.1 1793.0,1459.8 1798.1,1461.1 1803.4,1462.4 1808.5,1463.6 1813.6,1465.1 1818.9,1466.8 1824.0,1468.1 1829.1,1468.5 1834.4,1468.3 1839.5,1467.9 1844.6,1466.8 1849.9,1464.5 1855.0,1461.9 1860.1,1459.8 1865.5,1458.1 1870.6,1456.4 1875.7,1455.1 1881.0,1454.3 1886.1,1453.0 1891.2,1451.3 1896.5,1450.0 1901.6,1450.7 1906.7,1452.4 1912.0,1453.7 1917.1,1454.7 1922.2,1456.2 1927.5,1457.3 1932.6,1457.3 1937.7,1457.7 1943.0,1458.8 1948.1,1459.6 1953.2,1459.4 1958.5,1458.3 1963.6,1457.5 1968.7,1458.1 1974.0,1458.5 1979.1,1458.1 1984.2,1457.7 1989.5,1457.5 1994.6,1457.7 1999.7,1458.8 2005.0,1460.9 2010.1,1463.2 2015.2,1464.3 2020.6,1464.1 2025.7,1463.0 2030.8,1461.7 2036.1,1460.5 2041.2,1459.8 2046.3,1459.8 2051.6,1459.8 2056.7,1459.0 2061.8,1457.3 2067.1,1456.0 2072.2,1455.8 2077.3,1456.6 2082.6,1457.5 2087.7,1458.3 2092.8,1459.6 2097.9,1460.5 2102.6,1460.5 2107.9,1459.8 2112.8,1459.4"/>
<polyline class="o" points="304.7,1458.2 323.4,1458.8 331.9,1458.2 341.4,1457.5 352.1,1459.7 357.4,1459.7 363.7,1458.8 372.2,1457.8 385.0,1457.5 395.6,1458.0 404.1,1458.8 409.4,1459.7 419.0,1458.8 427.5,1459.2 433.9,1459.5 439.2,1457.8 444.1,1456.3 449.8,1456.9 457.2,1457.3 467.9,1457.5 476.4,1458.6 484.9,1459.2 495.5,1460.1 504.0,1459.9 510.4,1458.6 515.7,1457.8 523.1,1458.6 531.6,1458.4 541.2,1458.2 547.5,1459.5 552.8,1460.5 558.2,1460.9 563.5,1460.1 568.8,1458.2 574.1,1457.1 580.5,1457.8 586.8,1459.2 593.2,1460.5 599.6,1459.5 606.0,1459.2 612.3,1459.7 620.8,1459.5 629.3,1459.0 635.7,1458.4 642.1,1456.9 648.5,1456.9 657.0,1457.1 662.1,1458.4 667.4,1459.9 672.5,1459.9 677.6,1459.2 682.7,1458.2 688.0,1456.5 693.1,1455.0 696.5,1454.8 701.6,1456.1 706.9,1456.5 712.2,1455.4 717.5,1457.5 722.6,1459.9 727.7,1458.4 732.8,1456.1 738.1,1456.1 743.2,1459.2 748.3,1463.5 750.0,1464.3 753.8,1465.8 758.9,1463.1 764.0,1456.3 769.3,1451.0 774.4,1452.7 779.7,1456.3 784.8,1459.0 789.9,1461.2 795.3,1461.2 800.4,1457.8 805.5,1455.0 810.8,1454.6 815.9,1456.5 821.2,1458.8 826.3,1460.5 831.4,1461.4 836.7,1459.0 841.8,1454.4 846.9,1454.6 852.2,1458.4 857.3,1460.5 862.4,1459.0 867.7,1455.8 872.8,1455.4 877.9,1457.5 883.0,1458.8 888.3,1459.0 893.4,1458.8 898.7,1458.8 903.8,1457.8 908.9,1455.6 914.2,1456.3 919.3,1460.3 924.4,1462.9 929.8,1463.1 934.9,1462.4 940.2,1461.2 945.3,1459.2 950.4,1457.5 955.5,1457.1 960.8,1457.5 965.9,1456.3 971.0,1454.8 976.1,1454.4 981.4,1451.8 986.5,1448.2 991.6,1448.4 996.9,1454.1 1002.0,1459.5 1007.1,1460.3 1012.4,1458.2 1017.5,1460.9 1022.6,1467.3 1027.9,1469.2 1033.0,1462.4 1038.1,1455.6 1043.4,1454.6 1048.5,1456.9 1053.6,1459.2 1058.9,1462.4 1064.0,1465.0 1069.1,1464.3 1074.5,1462.0 1079.6,1459.9 1084.7,1458.6 1090.0,1458.4 1095.1,1459.2 1100.2,1460.1 1105.5,1459.5 1110.6,1459.0 1115.7,1460.1 1121.0,1459.0 1126.1,1455.6 1131.2,1456.3 1136.5,1460.9 1141.6,1464.8 1146.7,1464.1 1152.0,1459.5 1157.1,1455.0 1162.2,1451.6 1167.5,1447.8 1172.6,1446.1 1177.7,1448.0 1183.0,1452.0 1188.1,1455.0 1193.2,1452.7 1198.5,1448.8 1203.8,1448.4 1208.9,1449.0 1214.0,1448.6 1219.3,1446.1 1224.4,1442.7 1229.7,1442.2 1234.8,1446.5 1239.9,1452.0 1245.3,1455.2 1250.4,1455.0 1255.5,1456.7 1260.8,1459.5 1265.9,1467.7 1271.2,1484.3 1276.3,1505.6 1281.4,1523.6 1285.6,1531.7 1290.9,1527.2 1296.0,1509.8 1301.1,1484.7 1306.2,1460.9 1311.6,1443.9 1316.7,1433.3 1321.7,1426.5 1326.8,1423.6 1332.2,1424.0 1337.3,1427.0 1342.4,1433.3 1347.7,1441.8 1352.8,1450.3 1357.9,1456.3 1363.0,1457.1 1368.3,1453.7 1373.4,1448.2 1378.5,1442.5 1383.8,1438.6 1388.9,1438.4 1394.0,1442.9 1399.3,1451.6 1404.4,1458.8 1409.5,1462.2 1414.6,1463.9 1419.9,1465.8 1425.0,1467.5 1430.1,1466.5 1435.4,1461.6 1440.5,1456.9 1445.6,1456.7 1450.9,1461.6 1456.0,1466.5 1461.1,1468.6 1466.4,1469.7 1471.5,1471.4 1476.6,1472.6 1482.0,1472.6 1487.1,1472.0 1492.2,1469.7 1497.5,1466.9 1502.6,1465.2 1507.7,1463.1 1512.8,1458.8 1518.1,1452.0 1523.2,1446.1 1528.3,1443.9 1533.6,1443.5 1538.7,1444.6 1543.8,1446.5 1549.1,1449.0 1554.2,1453.3 1559.3,1457.1 1564.6,1458.4 1569.7,1457.8 1574.8,1455.8 1580.1,1453.7 1585.2,1453.9 1590.3,1455.4 1595.6,1457.5 1600.7,1459.9 1605.8,1462.9 1611.1,1467.3 1616.2,1470.5 1621.3,1470.7 1626.4,1469.9 1631.8,1468.6 1636.9,1466.3 1642.0,1463.7 1647.3,1460.7 1650.0,1460.1 1653.2,1459.5 1658.5,1460.7 1663.8,1462.2 1668.9,1462.9 1674.0,1460.9 1679.3,1457.8 1684.4,1456.7 1689.5,1455.8 1694.8,1452.9 1699.9,1449.7 1705.0,1448.2 1710.3,1448.6 1715.4,1449.5 1720.5,1450.3 1725.9,1453.1 1731.0,1456.3 1736.1,1457.3 1741.4,1457.8 1746.5,1458.8 1751.6,1459.7 1756.9,1459.9 1762.0,1458.6 1767.1,1457.3 1772.4,1457.1 1777.5,1457.1 1782.6,1457.3 1787.9,1458.4 1793.0,1460.5 1798.1,1463.1 1803.4,1463.9 1808.5,1462.9 1813.6,1462.2 1818.9,1462.4 1824.0,1463.1 1829.1,1463.5 1834.4,1463.1 1839.5,1464.8 1844.6,1466.5 1849.9,1465.2 1855.0,1463.5 1860.1,1462.4 1865.5,1460.7 1870.6,1457.8 1875.7,1454.4 1881.0,1452.9 1886.1,1452.0 1891.2,1450.3 1896.5,1449.0 1901.6,1449.5 1906.7,1451.4 1912.0,1453.7 1917.1,1454.8 1922.2,1455.8 1927.5,1458.0 1932.6,1459.7 1937.7,1461.2 1943.0,1462.9 1948.1,1464.3 1953.2,1465.0 1958.5,1463.9 1963.6,1461.6 1968.7,1459.9 1974.0,1457.8 1979.1,1454.6 1984.2,1452.4 1989.5,1451.6 1994.6,1452.0 1999.7,1453.7 2005.0,1455.4 2010.1,1457.5 2015.2,1460.1 2020.6,1462.4 2024.4,1463.3 2029.5,1461.6 2034.6,1459.2 2039.7,1459.7 2045.0,1459.5 2050.1,1457.8 2055.4,1456.1 2060.5,1455.4 2065.6,1457.5 2070.9,1459.9 2076.0,1460.7 2081.1,1461.8 2086.4,1462.6 2091.5,1462.9 2096.6,1462.4 2101.9,1461.6 2107.0,1460.1 2112.8,1458.4"/>
<polyline class="o" points="304.7,1458.0 321.2,1457.8 329.7,1458.7 342.5,1458.3 355.2,1458.7 370.1,1458.7 382.9,1459.5 395.6,1459.5 408.4,1458.9 419.0,1458.3 429.6,1459.1 442.4,1458.9 455.1,1458.5 465.7,1458.0 474.2,1458.9 487.0,1457.6 497.6,1458.3 510.4,1458.0 523.1,1457.8 535.8,1458.3 546.5,1457.6 557.1,1458.3 569.8,1458.5 582.6,1458.7 595.3,1458.9 606.0,1458.5 618.7,1458.7 629.3,1458.5 640.0,1459.3 646.3,1459.5 652.7,1459.1 657.0,1458.7 662.1,1459.1 667.4,1460.4 672.5,1461.0 677.6,1460.4 682.7,1457.8 688.0,1455.1 693.1,1454.6 698.2,1455.7 703.5,1455.9 706.9,1455.5 712.2,1456.3 717.5,1459.5 722.6,1460.2 727.7,1457.6 732.8,1456.3 738.1,1458.9 743.2,1462.7 749.4,1466.1 754.2,1464.6 759.6,1457.8 764.9,1450.8 770.2,1449.8 775.3,1452.9 780.4,1457.4 785.7,1461.2 790.8,1463.6 795.9,1461.7 801.2,1456.8 806.3,1453.2 811.4,1452.7 816.7,1456.8 821.8,1461.9 826.9,1465.3 832.2,1463.1 837.3,1458.0 842.4,1455.9 847.5,1458.0 852.8,1460.4 857.9,1460.2 863.0,1458.9 868.3,1457.2 873.4,1456.6 878.5,1458.3 883.9,1460.2 889.0,1460.6 894.1,1460.2 899.4,1459.3 904.5,1457.4 909.6,1455.5 914.9,1456.6 920.0,1460.0 925.1,1462.3 930.4,1463.6 935.5,1464.0 940.6,1462.7 945.9,1460.2 951.0,1459.3 956.1,1458.9 961.4,1457.4 966.5,1455.1 971.6,1452.9 976.9,1451.2 982.0,1450.0 987.1,1449.3 992.4,1450.2 997.5,1452.7 1002.6,1455.9 1007.9,1458.3 1013.0,1459.7 1018.1,1462.9 1023.5,1467.2 1028.6,1467.6 1033.7,1463.1 1039.0,1458.3 1044.1,1455.9 1049.2,1455.5 1054.3,1457.4 1059.6,1464.2 1064.7,1469.1 1069.8,1465.3 1075.1,1458.9 1080.2,1458.0 1085.3,1461.2 1090.6,1463.8 1095.7,1462.9 1100.8,1460.8 1106.1,1458.7 1111.2,1459.1 1116.3,1460.2 1121.6,1458.3 1126.7,1455.5 1131.8,1457.2 1137.1,1463.1 1142.2,1466.5 1147.3,1464.2 1152.6,1458.9 1157.7,1454.9 1162.8,1452.5 1168.2,1449.5 1173.3,1447.0 1178.4,1447.4 1183.7,1450.0 1188.8,1452.1 1193.9,1450.8 1199.2,1448.1 1203.8,1447.4 1208.9,1448.1 1214.0,1447.8 1219.3,1445.1 1224.4,1441.9 1229.7,1441.7 1234.8,1445.3 1239.9,1449.3 1245.3,1450.8 1250.4,1451.2 1255.5,1452.5 1260.8,1456.3 1265.9,1465.7 1271.2,1481.2 1276.3,1502.5 1281.4,1521.6 1286.7,1531.8 1291.8,1528.6 1296.9,1514.1 1302.2,1491.2 1307.3,1468.5 1312.4,1450.4 1317.7,1437.6 1322.8,1430.0 1327.9,1425.1 1333.0,1424.3 1338.3,1427.4 1343.4,1433.8 1348.7,1441.9 1353.8,1449.5 1358.9,1454.2 1364.2,1454.6 1369.3,1450.8 1374.4,1446.1 1379.8,1441.9 1384.9,1438.9 1390.2,1438.1 1395.3,1441.0 1400.4,1447.2 1405.5,1454.2 1410.8,1460.0 1415.9,1463.6 1421.0,1466.1 1426.1,1467.0 1431.4,1464.8 1436.5,1459.5 1441.6,1455.1 1446.9,1455.3 1452.0,1461.0 1457.1,1467.0 1462.4,1471.0 1467.5,1472.7 1472.6,1473.8 1477.9,1475.3 1483.0,1475.9 1488.1,1474.8 1493.4,1471.4 1498.5,1468.0 1503.6,1465.9 1508.9,1463.4 1514.0,1458.0 1519.1,1451.5 1524.5,1446.8 1529.6,1444.9 1534.7,1444.9 1540.0,1445.3 1545.1,1446.4 1550.2,1448.7 1555.5,1452.3 1560.6,1455.3 1565.7,1456.1 1571.0,1455.7 1576.1,1454.6 1581.2,1454.0 1586.5,1454.2 1591.6,1454.9 1596.7,1456.1 1602.0,1458.5 1607.1,1461.7 1612.2,1465.1 1617.5,1468.2 1622.6,1469.9 1627.7,1470.2 1633.0,1469.1 1638.1,1466.5 1643.2,1463.1 1648.5,1460.2 1653.8,1459.5 1658.5,1461.0 1663.8,1462.5 1668.9,1462.9 1674.0,1462.3 1679.3,1460.4 1684.4,1458.0 1689.5,1454.9 1694.8,1451.0 1699.9,1447.4 1705.0,1445.5 1710.3,1445.7 1715.4,1448.1 1720.5,1450.6 1725.9,1452.3 1731.0,1453.6 1736.1,1455.1 1741.4,1457.0 1746.5,1458.7 1751.6,1458.9 1756.9,1458.5 1762.0,1458.5 1767.1,1458.3 1772.4,1457.0 1777.5,1455.9 1782.6,1456.8 1787.9,1459.3 1793.0,1461.4 1798.1,1462.1 1803.4,1462.1 1808.5,1462.1 1813.6,1462.3 1818.9,1463.1 1824.0,1464.8 1829.1,1466.8 1834.4,1468.2 1839.5,1468.7 1844.6,1468.0 1849.9,1466.1 1855.0,1464.0 1860.1,1461.9 1865.5,1459.5 1870.6,1457.2 1875.7,1454.9 1881.0,1452.9 1886.1,1451.2 1891.2,1449.8 1896.5,1448.9 1901.6,1448.9 1906.7,1450.0 1912.0,1452.1 1917.1,1454.2 1922.2,1456.1 1927.5,1458.3 1932.6,1460.0 1937.7,1460.6 1943.0,1461.7 1948.1,1463.1 1953.2,1463.6 1958.5,1462.3 1963.6,1460.4 1968.7,1458.9 1974.0,1457.4 1979.1,1455.7 1984.2,1454.2 1989.5,1453.8 1994.6,1454.2 1999.7,1455.3 2005.0,1457.4 2010.1,1460.2 2015.2,1463.1 2020.6,1465.1 2025.7,1465.9 2030.8,1465.5 2036.1,1463.1 2041.2,1460.6 2046.3,1459.3 2051.6,1458.9 2056.7,1458.7 2061.8,1458.3 2067.1,1457.8 2072.2,1457.4 2077.3,1457.2 2082.6,1457.8 2087.7,1458.7 2092.8,1459.5 2097.9,1460.8 2102.6,1461.4 2107.9,1460.4 2112.8,1458.9"/>
<polyline class="o" points="304.7,1458.1 321.2,1458.5 334.0,1457.9 346.7,1458.5 357.4,1458.1 370.1,1458.5 385.0,1458.1 397.7,1457.9 412.6,1458.7 425.4,1458.3 440.2,1457.9 453.0,1458.5 467.9,1458.5 484.9,1458.5 499.7,1457.7 514.6,1459.0 527.4,1458.1 540.1,1458.7 552.8,1458.1 565.6,1458.5 578.3,1457.9 591.1,1458.5 608.1,1457.9 620.8,1458.5 633.6,1458.1 646.3,1458.5 657.0,1458.5 662.1,1459.2 667.4,1460.2 672.5,1461.3 677.6,1460.7 682.7,1457.9 688.0,1454.7 693.1,1453.9 698.2,1455.1 703.5,1455.6 706.9,1455.1 712.2,1456.4 717.5,1460.0 722.6,1460.9 727.7,1458.5 732.8,1456.4 738.1,1458.7 743.2,1463.6 748.8,1467.7 754.2,1464.9 759.6,1456.4 764.9,1449.4 769.5,1448.8 775.3,1453.7 780.4,1459.0 785.7,1462.6 790.8,1463.6 795.9,1462.1 801.2,1457.9 806.3,1452.6 811.0,1449.6 816.7,1453.0 821.8,1460.7 826.9,1467.0 832.2,1466.6 837.3,1461.1 842.4,1457.1 847.5,1457.5 852.8,1460.2 857.9,1460.9 863.0,1458.1 868.3,1455.1 873.4,1456.0 878.5,1459.0 883.9,1460.9 889.0,1460.7 894.1,1459.4 899.4,1457.7 904.5,1456.0 909.6,1455.8 914.9,1458.3 920.0,1461.5 925.1,1463.6 930.4,1464.3 935.5,1462.8 940.6,1460.0 945.9,1457.7 951.0,1457.5 956.1,1458.5 961.4,1458.7 966.5,1456.8 971.6,1453.2 976.9,1449.8 982.0,1448.3 987.1,1449.2 992.4,1453.0 997.5,1457.5 1002.6,1458.5 1007.9,1454.9 1013.0,1453.4 1018.1,1460.2 1023.5,1467.5 1028.6,1470.0 1033.7,1467.5 1039.0,1463.0 1044.1,1457.7 1049.2,1452.8 1054.3,1454.1 1059.6,1461.5 1064.7,1467.2 1069.8,1466.0 1075.1,1461.7 1080.2,1459.8 1085.3,1461.1 1090.6,1463.2 1095.7,1464.9 1100.8,1464.7 1106.1,1461.7 1111.2,1458.1 1116.3,1456.0 1121.6,1454.9 1126.7,1455.6 1131.8,1458.5 1137.1,1463.0 1142.2,1466.8 1147.3,1466.0 1152.6,1460.0 1157.7,1453.7 1162.8,1449.4 1168.2,1448.6 1173.3,1450.0 1178.4,1451.5 1183.7,1451.1 1188.8,1449.4 1193.9,1447.9 1199.2,1447.7 1203.8,1448.1 1208.9,1447.1 1214.0,1444.9 1219.3,1442.4 1224.4,1440.5 1229.7,1440.1 1234.8,1442.0 1239.9,1445.8 1245.3,1448.8 1250.4,1449.6 1255.5,1451.1 1260.8,1456.8 1265.9,1467.9 1271.2,1484.0 1276.3,1504.6 1281.4,1522.7 1286.7,1531.8 1291.8,1530.8 1296.9,1520.6 1302.2,1502.5 1307.3,1483.4 1312.4,1465.3 1317.7,1447.7 1322.8,1432.4 1327.9,1425.2 1333.0,1424.5 1338.3,1426.2 1343.4,1429.2 1348.7,1434.3 1353.8,1441.3 1358.9,1447.1 1364.2,1449.6 1369.3,1449.2 1374.4,1445.6 1379.8,1441.3 1384.9,1439.6 1390.2,1441.3 1395.3,1444.5 1400.4,1448.6 1405.5,1453.9 1410.8,1460.7 1415.9,1465.5 1421.0,1467.0 1426.1,1466.6 1431.4,1464.3 1436.5,1459.0 1441.6,1451.5 1446.9,1445.6 1452.0,1445.6 1457.1,1449.8 1462.4,1455.8 1467.5,1461.5 1472.6,1466.0 1477.9,1470.4 1483.0,1475.5 1488.1,1479.6 1493.4,1480.2 1498.5,1478.9 1503.6,1477.2 1508.9,1474.9 1514.0,1471.9 1519.1,1468.7 1524.5,1466.6 1529.6,1466.2 1534.7,1465.8 1540.0,1462.1 1545.1,1455.1 1550.2,1449.6 1555.5,1448.1 1560.6,1447.5 1565.7,1446.0 1571.0,1444.7 1576.1,1444.3 1581.2,1444.7 1586.5,1446.0 1591.6,1449.2 1596.7,1453.0 1602.0,1455.8 1607.1,1458.3 1612.2,1461.1 1617.5,1463.0 1622.6,1463.8 1627.7,1463.2 1633.0,1461.9 1638.1,1460.2 1643.2,1458.1 1648.5,1456.8 1653.8,1457.5 1658.5,1460.0 1663.8,1464.3 1668.9,1467.7 1674.0,1468.7 1679.3,1467.7 1684.4,1462.8 1689.5,1456.4 1694.8,1451.1 1699.9,1447.9 1705.0,1446.6 1710.3,1447.1 1715.4,1449.2 1720.5,1452.2 1725.9,1455.8 1731.0,1459.0 1736.1,1461.1 1741.4,1463.4 1746.5,1465.3 1751.6,1466.0 1756.9,1464.7 1762.0,1461.1 1767.1,1456.2 1772.4,1451.5 1777.5,1449.2 1782.6,1448.6 1787.9,1449.8 1793.0,1452.8 1798.1,1456.2 1803.4,1458.5 1808.5,1460.0 1813.6,1461.9 1818.9,1464.9 1824.0,1468.3 1829.1,1471.1 1834.4,1471.9 1839.5,1471.3 1844.6,1469.6 1849.9,1467.7 1855.0,1466.2 1860.1,1465.1 1865.5,1464.1 1870.6,1461.9 1875.7,1458.3 1881.0,1454.7 1886.1,1451.5 1891.2,1448.1 1896.5,1446.4 1901.6,1446.9 1906.7,1450.5 1912.0,1454.7 1917.1,1457.7 1922.2,1459.6 1927.5,1460.7 1932.6,1461.1 1937.7,1460.4 1943.0,1458.5 1948.1,1456.6 1953.2,1455.6 1958.5,1453.9 1963.6,1451.3 1968.7,1449.8 1974.0,1450.0 1979.1,1450.7 1984.2,1451.7 1989.5,1454.3 1994.6,1457.9 1999.7,1460.4 2005.0,1462.1 2010.1,1463.8 2015.2,1465.5 2020.6,1467.0 2025.7,1468.1 2030.8,1468.3 2036.1,1467.5 2041.2,1465.3 2046.3,1463.0 2051.6,1461.7 2056.7,1460.4 2061.8,1459.2 2067.1,1458.3 2072.2,1457.7 2077.3,1457.7 2082.6,1458.5 2087.7,1459.6 2092.8,1460.7 2097.9,1461.5 2102.6,1461.9 2107.9,1461.5 2112.8,1459.6"/>
<polyline class="o" points="304.7,1458.1 309.6,1455.9 314.9,1457.2 321.2,1458.5 325.9,1455.9 331.2,1456.8 336.5,1459.5 341.4,1459.1 346.3,1454.7 351.4,1451.9 356.3,1456.4 361.6,1462.7 366.9,1461.0 372.2,1455.1 377.6,1454.4 382.9,1458.9 387.8,1462.5 392.9,1460.6 398.0,1458.5 403.3,1459.3 408.4,1459.1 413.7,1458.5 418.8,1458.3 424.1,1456.4 429.2,1454.7 434.3,1455.1 439.6,1457.6 444.7,1459.5 449.8,1457.2 455.1,1454.7 460.2,1456.8 465.3,1458.7 470.6,1458.5 475.7,1458.7 480.8,1457.2 486.1,1456.1 491.2,1458.1 496.3,1460.0 501.6,1459.8 506.7,1457.6 511.8,1458.5 517.2,1462.1 522.3,1462.7 527.4,1461.7 532.7,1461.0 537.8,1457.8 542.9,1456.8 548.2,1459.3 553.3,1460.0 558.4,1456.1 563.5,1451.5 568.8,1453.6 573.9,1461.2 579.2,1464.9 584.3,1463.2 589.4,1460.0 594.5,1457.6 599.8,1458.9 604.9,1460.0 610.2,1457.8 615.3,1454.9 620.4,1453.2 625.7,1457.8 630.8,1464.4 635.9,1462.5 641.2,1455.7 646.3,1454.2 651.4,1457.8 656.7,1461.7 661.8,1462.9 666.9,1463.4 672.3,1465.3 677.4,1465.3 682.5,1463.2 687.8,1460.0 692.9,1455.1 698.0,1452.7 703.3,1453.2 708.4,1452.3 713.5,1454.2 718.6,1456.8 723.9,1457.0 729.0,1457.0 734.1,1455.3 739.4,1455.3 744.5,1463.8 749.6,1472.1 754.2,1468.9 759.6,1457.2 764.9,1448.3 770.2,1447.4 775.3,1451.9 780.4,1457.8 785.7,1464.0 790.8,1465.9 795.9,1460.6 801.2,1453.2 806.3,1447.6 811.4,1446.6 816.7,1450.2 821.8,1458.1 826.9,1468.9 832.2,1471.9 837.3,1461.7 842.4,1452.7 847.5,1454.0 852.8,1458.1 857.9,1457.8 863.0,1454.4 868.3,1453.6 873.4,1458.1 878.5,1462.5 883.9,1463.8 889.0,1458.9 894.1,1452.7 899.4,1453.4 904.5,1456.4 909.6,1457.4 914.9,1460.0 920.0,1462.9 925.1,1464.4 930.4,1464.4 935.5,1465.3 940.6,1466.8 945.9,1465.5 951.0,1461.2 956.1,1458.7 961.4,1456.6 966.5,1453.8 971.6,1450.8 976.9,1448.7 982.0,1448.9 987.1,1450.0 992.4,1449.6 997.5,1450.8 1002.6,1453.8 1007.9,1457.2 1013.0,1460.8 1018.1,1463.2 1023.5,1467.6 1028.6,1472.9 1033.7,1470.4 1039.0,1463.6 1044.1,1458.7 1049.2,1453.4 1054.3,1454.0 1059.6,1463.8 1064.7,1470.4 1069.8,1466.6 1075.1,1459.5 1080.2,1460.6 1085.3,1467.4 1090.6,1469.5 1095.7,1467.6 1100.8,1465.5 1106.1,1464.0 1111.2,1463.2 1116.3,1460.6 1121.6,1456.1 1126.7,1454.2 1131.8,1455.9 1137.1,1461.2 1142.2,1467.4 1147.3,1467.8 1152.6,1461.0 1157.7,1454.2 1162.8,1448.7 1168.2,1444.5 1173.3,1442.8 1178.4,1445.7 1183.7,1450.6 1188.8,1451.0 1193.9,1447.6 1199.2,1445.9 1203.8,1447.2 1208.9,1449.6 1214.0,1448.7 1219.3,1444.0 1224.4,1441.1 1229.7,1442.5 1234.8,1447.4 1239.9,1451.9 1245.3,1450.4 1250.4,1448.5 1255.5,1452.5 1260.8,1458.9 1265.9,1467.4 1271.2,1480.2 1276.3,1497.6 1281.4,1519.5 1286.7,1531.8 1291.8,1523.3 1296.9,1501.8 1302.2,1481.6 1307.3,1468.0 1312.4,1455.7 1317.7,1437.7 1322.8,1421.7 1327.9,1416.6 1333.0,1420.7 1338.3,1427.2 1343.4,1430.9 1348.7,1434.3 1353.8,1443.2 1358.9,1453.4 1364.2,1455.1 1369.3,1450.4 1374.4,1445.7 1379.8,1444.9 1384.9,1444.5 1390.2,1443.4 1395.3,1445.1 1400.4,1448.9 1405.5,1453.4 1410.8,1459.1 1415.9,1464.6 1421.0,1468.3 1426.1,1470.2 1431.4,1471.7 1436.5,1472.3 1441.6,1468.7 1446.9,1462.5 1452.0,1458.7 1457.1,1458.3 1462.4,1461.9 1467.5,1467.6 1472.6,1468.9 1477.9,1466.6 1483.0,1469.1 1488.1,1474.4 1493.4,1477.0 1498.5,1474.8 1503.6,1471.2 1508.9,1466.8 1514.0,1458.5 1519.1,1450.4 1524.5,1445.7 1529.6,1444.5 1534.7,1445.1 1540.0,1445.5 1545.1,1444.9 1550.2,1447.6 1555.5,1451.5 1560.6,1450.8 1565.7,1450.0 1571.0,1454.2 1576.1,1460.0 1581.2,1461.7 1586.5,1458.1 1591.6,1456.8 1596.7,1460.4 1602.0,1461.9 1607.1,1461.7 1612.2,1464.0 1617.5,1467.8 1622.6,1471.4 1627.7,1472.7 1633.0,1470.0 1638.1,1466.6 1643.2,1462.1 1648.5,1457.4 1653.4,1457.6 1658.5,1461.2 1663.8,1465.3 1668.9,1464.4 1674.0,1458.3 1679.3,1456.1 1684.4,1458.1 1689.5,1457.4 1694.8,1453.6 1699.9,1449.6 1705.0,1448.1 1710.3,1449.3 1715.4,1447.6 1720.5,1445.5 1725.9,1447.0 1731.0,1450.4 1736.1,1453.6 1741.4,1455.7 1746.5,1458.9 1751.6,1463.4 1756.9,1464.0 1762.0,1461.0 1767.1,1459.3 1772.4,1458.7 1777.5,1458.9 1782.6,1458.5 1787.9,1458.1 1793.0,1461.7 1798.1,1465.5 1803.4,1464.4 1808.5,1462.5 1813.6,1462.3 1818.9,1465.1 1824.0,1467.4 1829.1,1464.9 1834.4,1463.4 1839.5,1465.3 1844.6,1467.4 1849.9,1468.9 1855.0,1467.8 1860.1,1464.0 1865.5,1461.5 1870.6,1458.1 1875.7,1453.4 1881.0,1449.8 1886.1,1447.6 1891.2,1446.6 1896.5,1446.6 1901.6,1449.1 1906.7,1455.5 1912.0,1456.8 1917.1,1453.4 1922.2,1456.1 1927.5,1461.0 1932.6,1460.2 1937.7,1459.1 1943.0,1461.7 1948.1,1462.7 1953.2,1457.4 1958.5,1453.8 1963.6,1457.2 1968.7,1458.7 1974.0,1455.5 1979.1,1454.2 1984.2,1454.2 1989.5,1454.9 1994.6,1456.4 1999.7,1457.4 2005.0,1460.6 2010.1,1465.5 2015.2,1467.4 2020.6,1465.9 2025.7,1464.0 2030.8,1463.4 2036.1,1462.7 2041.2,1460.6 2046.3,1459.5 2051.6,1461.5 2056.7,1462.1 2061.8,1461.2 2067.1,1459.8 2072.2,1458.9 2077.3,1460.0 2082.6,1459.3 2087.7,1457.0 2092.8,1458.9 2097.9,1461.9 2102.6,1461.7 2107.9,1458.9 2112.8,1458.1"/>
<polyline class="o" points="304.7,1471.7 308.9,1480.7 314.0,1470.9 319.1,1453.7 324.2,1450.5 329.3,1463.0 334.6,1467.1 339.7,1458.8 344.8,1461.3 350.1,1467.1 355.2,1463.4 360.3,1459.6 365.7,1458.1 370.8,1459.4 375.9,1457.3 381.2,1447.9 386.3,1443.7 391.4,1445.8 396.7,1450.9 401.8,1459.2 406.9,1460.9 412.2,1458.3 417.3,1466.0 422.4,1473.4 427.5,1469.2 432.8,1456.4 437.9,1446.7 443.0,1453.7 448.3,1461.1 453.4,1452.6 458.5,1447.5 463.6,1456.0 468.9,1466.6 474.0,1469.2 479.1,1462.2 484.4,1456.2 489.5,1454.3 494.6,1454.1 499.9,1458.3 505.0,1461.7 510.4,1460.9 515.5,1462.8 520.6,1462.4 525.9,1459.0 531.0,1456.4 536.1,1455.8 541.4,1463.2 546.5,1470.9 551.6,1459.0 556.7,1441.8 562.0,1443.5 567.1,1461.1 572.2,1473.2 577.3,1464.1 582.6,1455.2 587.7,1461.3 592.8,1468.1 598.1,1467.1 603.2,1460.7 608.3,1452.6 613.6,1453.0 618.7,1455.2 623.8,1452.6 628.9,1455.2 634.2,1459.6 639.3,1459.4 644.4,1458.3 649.7,1460.7 654.8,1469.0 659.9,1474.1 665.2,1467.9 670.3,1459.0 675.4,1452.0 680.8,1451.3 685.9,1457.5 691.0,1458.6 696.3,1457.9 701.4,1461.3 706.5,1457.5 711.6,1452.8 716.9,1454.9 722.0,1452.6 727.1,1450.5 732.4,1453.9 737.5,1456.6 742.6,1456.9 747.9,1456.0 750.0,1456.9 753.0,1458.6 758.1,1459.8 763.2,1452.2 768.5,1448.6 773.6,1452.2 778.7,1456.9 784.0,1466.0 789.1,1464.9 794.2,1450.1 799.5,1439.9 804.6,1441.1 809.7,1447.1 815.0,1454.3 820.1,1458.1 825.2,1463.0 830.5,1464.7 835.6,1456.9 840.7,1451.1 846.0,1448.8 851.1,1449.6 856.2,1454.7 861.3,1453.5 866.7,1450.9 871.7,1455.2 876.8,1459.0 882.2,1465.8 887.3,1475.1 892.4,1472.6 897.7,1459.6 902.8,1446.9 907.9,1446.2 913.2,1461.3 918.3,1468.8 923.4,1464.9 928.7,1464.1 933.8,1467.1 938.9,1473.6 944.0,1474.5 949.3,1463.9 954.4,1458.8 959.5,1456.9 964.8,1452.0 969.9,1449.2 975.0,1447.3 980.3,1453.0 985.4,1464.7 990.5,1463.9 995.8,1456.6 1000.9,1459.0 1006.0,1466.4 1011.3,1468.1 1016.4,1457.9 1021.5,1452.0 1026.9,1463.2 1032.0,1471.1 1037.1,1465.4 1042.4,1456.9 1047.5,1455.2 1052.6,1464.9 1057.7,1473.9 1063.0,1469.2 1068.1,1462.4 1073.2,1456.6 1078.5,1454.5 1083.6,1463.9 1088.7,1473.4 1094.0,1470.7 1099.1,1458.6 1104.2,1450.7 1109.5,1459.6 1114.6,1468.5 1119.7,1457.5 1125.0,1446.7 1130.1,1450.9 1135.2,1461.7 1140.3,1465.4 1145.6,1457.5 1150.7,1454.7 1155.8,1461.7 1161.1,1459.0 1166.2,1447.5 1171.3,1439.6 1176.4,1439.6 1181.8,1451.5 1186.9,1458.1 1192.0,1453.2 1197.3,1449.8 1200.0,1450.1 1203.0,1451.5 1208.1,1454.1 1213.2,1452.6 1218.5,1444.1 1223.6,1442.6 1228.7,1448.1 1234.0,1446.4 1239.1,1445.8 1244.2,1447.9 1249.5,1449.0 1254.6,1452.0 1259.7,1455.2 1265.0,1457.9 1270.1,1464.3 1275.2,1475.6 1280.5,1499.3 1285.0,1523.4 1290.1,1531.9 1295.2,1526.5 1300.3,1507.8 1305.6,1485.5 1310.7,1474.9 1316.0,1464.3 1321.1,1446.2 1326.2,1429.7 1331.5,1420.3 1336.6,1423.1 1341.7,1432.0 1347.0,1433.5 1352.1,1432.4 1357.2,1436.5 1362.5,1448.4 1367.6,1460.7 1372.7,1455.4 1378.1,1442.0 1383.2,1434.5 1388.3,1428.4 1393.4,1430.1 1398.7,1440.9 1403.8,1450.5 1408.9,1458.1 1414.2,1460.3 1419.3,1460.0 1424.4,1467.9 1429.7,1474.9 1434.8,1472.4 1439.9,1461.1 1445.2,1446.2 1450.3,1443.5 1455.4,1454.7 1460.7,1465.4 1465.8,1468.1 1470.9,1463.2 1476.0,1461.7 1481.3,1473.9 1486.4,1487.7 1491.5,1493.0 1496.6,1486.6 1501.9,1468.5 1507.0,1458.3 1512.3,1462.8 1517.4,1466.8 1522.5,1464.7 1527.9,1457.3 1533.0,1452.6 1538.1,1454.9 1543.4,1452.2 1548.5,1448.1 1553.6,1449.6 1558.9,1450.1 1564.0,1452.6 1569.1,1456.4 1574.4,1455.2 1579.5,1457.9 1584.6,1463.7 1589.9,1460.5 1595.0,1453.7 1600.1,1449.2 1605.4,1453.0 1610.5,1460.5 1615.6,1460.3 1620.7,1460.0 1626.0,1466.4 1631.1,1471.7 1636.4,1474.3 1641.5,1469.0 1646.6,1460.0 1650.0,1459.0 1652.1,1458.8 1657.2,1460.0 1662.3,1460.7 1667.6,1463.0 1672.7,1460.7 1677.8,1458.3 1683.1,1456.9 1688.2,1451.3 1693.3,1448.1 1698.7,1450.9 1703.8,1456.4 1708.9,1454.9 1714.2,1440.9 1718.8,1436.9 1723.9,1449.0 1729.3,1454.1 1734.4,1454.3 1739.5,1457.9 1744.8,1461.5 1749.9,1464.1 1755.0,1462.2 1760.3,1457.9 1765.4,1455.2 1770.5,1450.1 1775.8,1448.6 1780.9,1453.7 1786.0,1458.3 1791.3,1466.6 1796.4,1467.9 1801.5,1457.9 1806.8,1460.5 1811.9,1471.9 1817.0,1472.6 1822.3,1466.2 1827.4,1463.7 1832.5,1467.9 1837.8,1469.2 1842.9,1459.6 1848.0,1457.3 1853.3,1464.7 1858.4,1465.1 1863.5,1461.3 1868.9,1459.0 1874.0,1460.7 1879.1,1464.9 1884.4,1461.3 1889.5,1453.9 1894.6,1450.5 1899.9,1445.4 1905.0,1442.8 1910.1,1445.8 1915.4,1452.0 1920.5,1460.7 1925.6,1461.3 1930.9,1452.8 1936.0,1449.2 1941.1,1451.5 1946.4,1454.7 1951.5,1454.7 1956.6,1452.0 1961.9,1458.8 1967.0,1466.0 1972.1,1463.2 1977.4,1463.4 1982.5,1469.2 1987.6,1473.6 1992.9,1474.9 1998.0,1469.6 2003.1,1461.5 2008.4,1454.7 2013.5,1450.1 2018.6,1454.7 2024.0,1460.7 2029.1,1458.3 2034.2,1457.5 2039.5,1462.4 2044.6,1469.6 2049.7,1474.5 2054.8,1464.7 2060.1,1449.6 2065.2,1440.7 2070.3,1441.6 2075.6,1452.2 2080.7,1458.3 2085.8,1451.1 2091.1,1451.1 2096.2,1465.4 2101.3,1477.5 2106.4,1473.9 2112.8,1452.6"/>
<polyline class="o" points="304.7,1459.7 312.7,1460.5 319.1,1459.0 324.4,1457.6 329.7,1456.7 335.1,1458.0 340.4,1459.9 345.7,1459.0 350.4,1457.6 355.7,1458.2 360.8,1459.0 365.9,1458.0 371.2,1456.1 376.5,1456.9 381.6,1458.8 386.7,1457.3 391.8,1455.4 397.1,1456.1 402.2,1456.9 407.5,1457.3 412.6,1457.6 417.7,1457.6 423.0,1458.4 428.1,1458.6 433.2,1457.1 438.5,1456.5 443.6,1458.2 448.7,1459.7 454.0,1458.6 459.1,1457.1 464.2,1458.0 469.6,1460.1 474.7,1460.7 479.8,1459.3 485.1,1457.6 490.2,1457.1 495.3,1458.4 500.6,1458.2 505.7,1457.3 510.8,1458.6 516.1,1460.1 521.2,1459.5 526.3,1458.8 531.6,1459.9 536.7,1460.7 541.8,1459.0 547.1,1457.3 552.2,1458.4 557.3,1459.0 562.6,1457.8 567.7,1457.3 572.8,1458.6 578.1,1459.9 583.2,1460.1 588.3,1458.8 593.6,1458.0 598.7,1458.2 603.8,1459.5 609.2,1459.0 614.3,1456.7 619.4,1456.3 624.7,1458.8 629.8,1459.3 634.9,1457.8 640.2,1459.3 645.3,1461.0 650.4,1459.7 655.7,1457.6 660.8,1458.0 665.9,1461.0 671.2,1463.7 676.3,1463.9 681.4,1460.7 686.5,1455.6 691.8,1454.8 696.9,1456.9 702.0,1455.0 707.3,1452.0 712.4,1453.9 717.5,1458.4 722.8,1460.1 727.9,1458.0 733.0,1456.9 738.3,1459.0 743.4,1463.7 748.5,1470.5 753.0,1470.9 758.1,1458.0 763.2,1446.3 768.5,1445.4 773.6,1452.5 778.7,1458.8 784.0,1463.1 789.1,1465.2 794.2,1462.2 799.5,1455.2 804.6,1452.2 809.7,1454.4 815.0,1455.2 820.1,1456.5 825.2,1461.2 830.5,1464.8 835.6,1463.1 840.7,1458.6 846.0,1454.8 851.1,1456.5 856.2,1462.4 861.3,1463.9 866.7,1457.6 871.7,1452.2 876.8,1455.9 882.2,1461.2 887.3,1459.7 892.4,1457.1 897.7,1457.8 902.8,1459.0 907.9,1457.6 913.2,1455.9 918.3,1457.8 923.4,1462.2 928.7,1466.5 933.8,1468.2 938.9,1464.4 944.0,1458.6 949.3,1458.4 954.4,1460.7 959.5,1459.3 964.8,1455.6 969.9,1452.9 975.0,1452.7 980.3,1453.7 985.4,1452.7 990.5,1450.1 995.8,1447.6 1000.9,1449.5 1006.0,1455.9 1011.3,1459.7 1016.4,1461.4 1021.5,1463.7 1026.9,1465.6 1032.0,1466.1 1037.1,1464.1 1042.4,1459.3 1047.5,1453.9 1052.6,1454.2 1057.7,1461.8 1063.0,1468.8 1068.1,1465.4 1073.2,1457.8 1078.5,1457.3 1083.6,1462.9 1088.7,1465.4 1094.0,1463.1 1099.1,1461.0 1104.2,1461.2 1109.5,1462.0 1114.6,1462.0 1119.7,1459.7 1125.0,1454.4 1130.1,1453.7 1135.2,1460.5 1140.3,1465.2 1145.6,1462.9 1150.7,1459.0 1155.8,1456.9 1161.1,1455.2 1166.2,1450.8 1171.3,1445.7 1176.4,1444.8 1181.8,1448.2 1186.9,1453.3 1192.0,1455.6 1197.3,1451.2 1200.0,1448.4 1203.0,1445.9 1208.1,1445.9 1213.2,1449.3 1218.5,1448.0 1223.6,1442.5 1228.7,1439.3 1234.0,1442.7 1239.1,1448.8 1244.2,1453.1 1249.5,1451.8 1254.6,1450.3 1259.7,1456.9 1265.0,1468.6 1270.1,1481.4 1275.2,1499.0 1280.5,1517.5 1285.0,1530.2 1290.1,1531.7 1295.2,1521.3 1300.3,1501.5 1305.6,1478.2 1310.7,1458.0 1316.0,1441.0 1321.1,1428.9 1326.2,1420.8 1331.5,1420.4 1336.6,1425.1 1341.7,1431.4 1347.0,1441.0 1352.1,1451.8 1357.2,1457.3 1362.5,1457.6 1367.6,1454.8 1372.7,1451.0 1378.1,1445.2 1383.2,1438.9 1388.3,1434.2 1393.4,1434.8 1398.7,1440.6 1403.8,1448.0 1408.9,1454.8 1414.2,1458.4 1419.3,1460.7 1424.4,1463.7 1429.7,1466.9 1434.8,1466.5 1439.9,1463.3 1445.2,1464.4 1450.3,1470.3 1455.4,1473.9 1460.7,1472.9 1465.8,1471.2 1470.9,1471.2 1476.0,1470.9 1481.3,1470.3 1486.4,1470.7 1491.5,1468.6 1496.6,1462.9 1501.9,1461.0 1507.0,1462.9 1512.3,1460.7 1517.4,1455.2 1522.5,1450.5 1527.9,1448.6 1533.0,1447.1 1538.1,1445.0 1543.4,1445.4 1548.5,1449.9 1553.6,1454.4 1558.9,1455.6 1564.0,1455.2 1569.1,1455.6 1574.4,1455.4 1579.5,1451.8 1584.6,1450.3 1589.9,1453.3 1595.0,1456.1 1600.1,1457.3 1605.4,1460.5 1610.5,1466.9 1615.6,1472.4 1620.7,1473.1 1626.0,1470.7 1631.1,1471.2 1636.4,1470.7 1641.5,1465.4 1646.6,1460.1 1650.0,1458.6 1652.1,1459.3 1657.2,1461.4 1662.3,1462.4 1667.6,1461.4 1672.7,1461.6 1677.8,1462.0 1683.1,1459.0 1688.2,1454.8 1693.3,1451.2 1698.7,1448.8 1703.8,1447.4 1708.9,1446.1 1714.2,1445.9 1718.8,1448.0 1723.9,1450.8 1729.3,1453.5 1734.4,1454.6 1739.5,1455.0 1744.8,1457.6 1749.9,1461.0 1755.0,1461.4 1760.3,1459.0 1765.4,1457.1 1770.5,1457.8 1775.8,1458.0 1780.9,1457.1 1786.0,1458.6 1791.3,1461.2 1796.4,1461.4 1801.5,1460.3 1806.8,1459.7 1811.9,1459.0 1817.0,1459.0 1822.3,1460.3 1827.4,1463.9 1832.5,1468.0 1837.8,1468.2 1842.9,1466.3 1848.0,1464.4 1853.3,1464.1 1858.4,1463.7 1863.5,1459.7 1868.9,1455.9 1874.0,1455.9 1879.1,1455.4 1884.4,1453.3 1889.5,1452.2 1894.6,1451.8 1899.9,1452.0 1905.0,1452.9 1910.1,1454.2 1915.4,1456.3 1920.5,1457.8 1925.6,1457.3 1930.9,1457.1 1936.0,1458.8 1941.1,1461.6 1946.4,1462.9 1951.5,1461.6 1956.6,1461.2 1961.9,1461.4 1967.0,1459.9 1972.1,1456.9 1977.4,1455.4 1982.5,1456.1 1987.6,1456.5 1992.9,1455.0 1998.0,1453.9 2003.1,1454.8 2008.4,1457.1 2013.5,1460.3 2018.6,1463.1 2024.0,1462.4 2029.1,1459.9 2034.2,1458.4 2039.5,1459.3 2044.6,1460.3 2049.7,1459.3 2054.8,1456.9 2060.1,1457.1 2065.2,1459.9 2070.3,1461.6 2075.6,1460.5 2080.7,1459.3 2085.8,1461.4 2091.1,1463.1 2096.2,1462.2 2101.3,1460.1 2106.4,1458.8 2112.8,1458.4"/>
<polyline class="b" points="304.7,1453.5 313.8,1456.3 320.2,1454.8 325.1,1454.2 335.1,1473.5 340.4,1470.5 345.0,1459.7 350.6,1453.5 355.7,1456.3 361.2,1459.2 366.3,1457.8 371.6,1458.0 376.9,1457.1 381.8,1458.2 387.1,1464.1 391.8,1465.6 397.3,1461.2 402.4,1459.9 407.7,1460.5 412.6,1460.1 417.9,1456.1 422.8,1452.2 428.1,1453.7 433.4,1454.8 438.5,1455.2 443.8,1455.9 448.7,1457.3 454.0,1460.1 458.9,1458.0 464.0,1452.9 469.3,1453.5 474.2,1454.8 479.5,1456.1 484.9,1457.5 490.2,1456.9 495.5,1459.7 500.8,1463.5 505.5,1462.0 510.4,1457.5 515.7,1453.1 521.0,1454.6 526.3,1455.9 531.6,1454.2 536.9,1458.0 541.8,1462.2 546.9,1464.6 552.2,1466.0 557.1,1463.5 562.4,1458.2 567.7,1452.7 573.0,1451.6 577.9,1455.9 583.0,1458.0 587.9,1457.8 593.2,1461.2 598.5,1465.8 603.4,1467.7 608.7,1462.9 614.0,1455.2 619.1,1454.4 624.5,1455.9 629.3,1454.2 634.7,1453.7 640.0,1457.5 645.3,1462.4 650.2,1465.4 655.3,1465.4 660.6,1463.3 665.7,1458.2 670.8,1454.4 676.1,1453.9 681.4,1452.9 686.7,1452.2 691.6,1451.6 696.7,1451.8 701.6,1456.5 706.9,1461.4 712.2,1465.0 717.5,1468.6 722.4,1463.9 727.7,1454.4 732.8,1451.2 738.1,1458.0 743.0,1464.3 748.3,1466.3 750.0,1466.3 758.5,1465.4 763.8,1461.6 769.5,1457.5 775.1,1456.1 779.7,1456.7 785.1,1460.3 790.4,1462.0 795.7,1461.6 800.6,1461.2 805.7,1460.1 810.6,1462.4 815.4,1465.0 820.8,1463.1 825.9,1465.0 831.2,1471.4 836.3,1471.8 841.4,1461.4 846.7,1452.2 851.8,1458.6 856.9,1467.1 862.0,1463.3 867.3,1456.5 872.4,1454.8 877.5,1457.3 882.8,1460.7 888.1,1459.9 893.4,1458.4 898.7,1458.2 903.4,1457.3 908.7,1455.9 913.8,1454.2 918.9,1455.9 924.2,1460.3 929.3,1460.7 934.4,1458.2 939.5,1459.5 944.8,1464.3 949.9,1466.5 955.0,1458.0 960.4,1448.0 965.7,1444.2 970.6,1446.3 975.9,1453.5 981.0,1458.0 986.1,1455.2 991.2,1455.0 996.5,1460.1 1001.6,1463.5 1006.7,1458.6 1011.8,1448.6 1017.1,1449.5 1022.2,1461.6 1027.3,1467.5 1032.6,1462.2 1037.7,1456.5 1042.8,1457.3 1048.1,1456.9 1053.2,1454.4 1058.3,1460.1 1063.6,1463.9 1068.7,1456.1 1073.8,1455.0 1079.1,1462.4 1084.2,1463.3 1089.3,1455.4 1094.4,1452.5 1099.7,1460.3 1104.8,1463.9 1109.9,1457.1 1115.2,1454.8 1120.3,1454.4 1125.4,1452.2 1130.8,1452.0 1135.9,1457.3 1141.0,1463.3 1146.1,1462.9 1151.4,1458.6 1156.5,1457.5 1161.6,1454.8 1166.9,1446.5 1172.0,1441.0 1177.1,1443.3 1182.4,1450.8 1187.5,1452.0 1192.6,1445.4 1197.9,1443.5 1200.0,1444.2 1203.2,1445.9 1208.1,1446.5 1213.4,1441.2 1218.7,1435.5 1223.8,1438.0 1228.9,1443.7 1234.0,1447.6 1239.3,1453.3 1244.4,1456.9 1249.5,1458.6 1254.6,1460.3 1259.7,1462.9 1265.0,1472.4 1270.1,1487.3 1275.2,1503.7 1280.3,1520.9 1285.6,1531.9 1290.7,1530.2 1295.8,1513.9 1301.1,1480.9 1306.2,1450.1 1311.3,1429.9 1316.7,1419.9 1321.7,1416.5 1326.8,1414.4 1332.2,1421.9 1337.3,1438.4 1342.4,1448.6 1347.7,1449.9 1352.8,1452.0 1357.9,1456.1 1363.0,1456.5 1368.3,1449.5 1373.4,1443.7 1378.5,1442.0 1383.8,1438.0 1388.9,1437.8 1394.0,1447.4 1399.3,1458.6 1404.4,1466.7 1409.5,1464.1 1414.6,1458.8 1419.9,1462.2 1425.0,1468.2 1430.1,1470.1 1435.4,1466.3 1440.5,1464.1 1445.6,1469.9 1450.9,1473.7 1456.0,1472.2 1461.1,1472.6 1466.4,1473.9 1471.5,1474.3 1476.6,1470.3 1482.0,1464.3 1487.1,1462.0 1492.2,1461.4 1497.5,1462.0 1502.6,1461.6 1507.7,1456.9 1512.8,1455.2 1518.1,1458.0 1523.2,1459.2 1528.3,1458.8 1533.6,1455.4 1538.7,1454.4 1543.8,1458.8 1549.1,1461.6 1554.2,1461.4 1559.3,1458.6 1564.6,1455.0 1569.7,1453.9 1574.8,1452.9 1580.1,1452.9 1585.2,1455.4 1590.3,1457.3 1595.6,1459.7 1600.7,1463.9 1605.8,1467.7 1611.1,1468.4 1616.2,1463.3 1621.3,1459.2 1626.4,1459.7 1631.8,1459.0 1636.9,1459.2 1642.0,1459.7 1647.3,1458.6 1650.0,1459.5 1652.5,1460.7 1657.6,1463.5 1662.7,1464.3 1668.1,1461.2 1673.2,1453.5 1678.3,1450.1 1683.6,1452.0 1688.7,1450.8 1693.8,1446.5 1698.9,1442.3 1704.2,1443.1 1709.3,1447.6 1714.4,1449.3 1719.7,1449.1 1724.8,1450.5 1729.9,1455.4 1735.0,1458.2 1740.3,1456.3 1745.4,1458.2 1750.5,1461.4 1755.8,1456.9 1760.9,1455.4 1766.0,1460.1 1771.1,1461.2 1776.4,1457.5 1781.5,1454.4 1786.6,1456.7 1791.9,1462.2 1797.0,1465.0 1802.1,1468.0 1807.4,1470.5 1812.5,1471.4 1817.6,1471.1 1823.0,1469.4 1828.1,1470.9 1833.2,1471.8 1838.3,1465.0 1843.6,1460.7 1848.7,1462.4 1853.8,1460.9 1859.1,1456.1 1864.2,1454.8 1869.3,1459.2 1874.6,1461.4 1879.7,1456.9 1884.8,1454.2 1890.1,1454.6 1895.2,1454.2 1900.3,1454.4 1905.6,1454.4 1910.7,1454.2 1915.8,1452.5 1920.9,1450.1 1926.2,1453.3 1931.3,1459.0 1936.4,1465.0 1941.7,1469.2 1946.8,1465.4 1951.9,1460.7 1957.2,1461.8 1962.3,1460.9 1967.4,1454.4 1972.5,1449.1 1977.9,1451.0 1983.0,1453.3 1988.1,1452.5 1993.4,1460.1 1998.5,1469.7 2003.6,1464.1 2008.9,1453.9 2014.0,1453.9 2019.1,1461.6 2024.4,1464.6 2029.5,1456.9 2034.6,1449.1 2039.7,1450.1 2045.0,1456.9 2050.1,1463.3 2055.4,1462.4 2060.5,1458.0 2065.6,1459.2 2070.9,1461.2 2076.0,1458.0 2081.1,1455.4 2086.4,1454.4 2091.5,1453.9 2096.6,1451.6 2101.9,1453.1 2107.0,1464.1 2112.8,1469.2"/>
<polyline class="b" points="304.7,257.1 313.8,259.9 320.2,258.4 325.1,257.8 335.1,277.1 340.4,274.1 345.0,263.3 350.6,257.1 355.7,259.9 361.2,262.9 366.3,261.4 371.6,261.6 376.9,260.8 381.8,261.8 387.1,267.8 391.8,269.3 397.3,264.8 402.4,263.5 407.7,264.2 412.6,263.7 417.9,259.7 422.8,255.9 428.1,257.4 433.4,258.4 438.5,258.8 443.8,259.5 448.7,261.0 454.0,263.7 458.9,261.6 464.0,256.5 469.3,257.1 474.2,258.4 479.5,259.7 484.9,261.2 490.2,260.5 495.5,263.3 500.8,267.1 505.5,265.6 510.4,261.2 515.7,256.7 521.0,258.2 526.3,259.5 531.6,257.8 536.9,261.6 541.8,265.9 546.9,268.2 552.2,269.7 557.1,267.1 562.4,261.8 567.7,256.3 573.0,255.2 577.9,259.5 583.0,261.6 587.9,261.4 593.2,264.8 598.5,269.5 603.4,271.4 608.7,266.5 614.0,258.8 619.1,258.0 624.5,259.5 629.3,257.8 634.7,257.4 640.0,261.2 645.3,266.1 650.2,269.0 655.3,269.0 660.6,266.9 665.7,261.8 670.8,258.0 676.1,257.6 681.4,256.5 686.7,255.9 691.6,255.2 696.7,255.4 701.6,260.1 706.9,265.0 712.2,268.6 717.5,272.2 722.4,267.6 727.7,258.0 732.8,254.8 738.1,261.6 743.0,268.0 748.3,269.9 750.0,269.9 758.5,269.0 763.8,265.2 769.5,261.2 775.1,259.7 779.7,260.3 785.1,263.9 790.4,265.6 795.7,265.2 800.6,264.8 805.7,263.7 810.6,266.1 815.4,268.6 820.8,266.7 825.9,268.6 831.2,275.0 836.3,275.4 841.4,265.0 846.7,255.9 851.8,262.2 856.9,270.7 862.0,266.9 867.3,260.1 872.4,258.4 877.5,261.0 882.8,264.4 888.1,263.5 893.4,262.0 898.7,261.8 903.4,261.0 908.7,259.5 913.8,257.8 918.9,259.5 924.2,263.9 929.3,264.4 934.4,261.8 939.5,263.1 944.8,268.0 949.9,270.1 955.0,261.6 960.4,251.6 965.7,247.8 970.6,249.9 975.9,257.1 981.0,261.6 986.1,258.8 991.2,258.6 996.5,263.7 1001.6,267.1 1006.7,262.2 1011.8,252.3 1017.1,253.1 1022.2,265.2 1027.3,271.2 1032.6,265.9 1037.7,260.1 1042.8,261.0 1048.1,260.5 1053.2,258.0 1058.3,263.7 1063.6,267.6 1068.7,259.7 1073.8,258.6 1079.1,266.1 1084.2,266.9 1089.3,259.1 1094.4,256.1 1099.7,263.9 1104.8,267.6 1109.9,260.8 1115.2,258.4 1120.3,258.0 1125.4,255.9 1130.8,255.7 1135.9,261.0 1141.0,266.9 1146.1,266.5 1151.4,262.2 1156.5,261.2 1161.6,258.4 1166.9,250.1 1172.0,244.6 1177.1,246.9 1182.4,254.4 1187.5,255.7 1192.6,249.1 1197.9,247.2 1200.0,247.8 1203.2,249.5 1208.1,250.1 1213.4,244.8 1218.7,239.1 1223.8,241.6 1228.9,247.4 1234.0,251.2 1239.3,256.9 1244.4,260.5 1249.5,262.2 1254.6,263.9 1259.7,266.5 1265.0,276.1 1270.1,290.9 1275.2,307.3 1280.3,324.5 1285.6,335.5 1290.7,333.8 1295.8,317.5 1301.1,284.6 1306.2,253.7 1311.3,233.6 1316.7,223.6 1321.7,220.2 1326.8,218.0 1332.2,225.5 1337.3,242.1 1342.4,252.3 1347.7,253.5 1352.8,255.7 1357.9,259.7 1363.0,260.1 1368.3,253.1 1373.4,247.4 1378.5,245.7 1383.8,241.6 1388.9,241.4 1394.0,251.0 1399.3,262.2 1404.4,270.3 1409.5,267.8 1414.6,262.5 1419.9,265.9 1425.0,271.8 1430.1,273.7 1435.4,269.9 1440.5,267.8 1445.6,273.5 1450.9,277.3 1456.0,275.8 1461.1,276.3 1466.4,277.5 1471.5,278.0 1476.6,273.9 1482.0,268.0 1487.1,265.6 1492.2,265.0 1497.5,265.6 1502.6,265.2 1507.7,260.5 1512.8,258.8 1518.1,261.6 1523.2,262.9 1528.3,262.5 1533.6,259.1 1538.7,258.0 1543.8,262.5 1549.1,265.2 1554.2,265.0 1559.3,262.2 1564.6,258.6 1569.7,257.6 1574.8,256.5 1580.1,256.5 1585.2,259.1 1590.3,261.0 1595.6,263.3 1600.7,267.6 1605.8,271.4 1611.1,272.0 1616.2,266.9 1621.3,262.9 1626.4,263.3 1631.8,262.7 1636.9,262.9 1642.0,263.3 1647.3,262.2 1650.0,263.1 1652.5,264.4 1657.6,267.1 1662.7,268.0 1668.1,264.8 1673.2,257.1 1678.3,253.7 1683.6,255.7 1688.7,254.4 1693.8,250.1 1698.9,245.9 1704.2,246.7 1709.3,251.2 1714.4,252.9 1719.7,252.7 1724.8,254.2 1729.9,259.1 1735.0,261.8 1740.3,259.9 1745.4,261.8 1750.5,265.0 1755.8,260.5 1760.9,259.1 1766.0,263.7 1771.1,264.8 1776.4,261.2 1781.5,258.0 1786.6,260.3 1791.9,265.9 1797.0,268.6 1802.1,271.6 1807.4,274.1 1812.5,275.0 1817.6,274.8 1823.0,273.1 1828.1,274.6 1833.2,275.4 1838.3,268.6 1843.6,264.4 1848.7,266.1 1853.8,264.6 1859.1,259.7 1864.2,258.4 1869.3,262.9 1874.6,265.0 1879.7,260.5 1884.8,257.8 1890.1,258.2 1895.2,257.8 1900.3,258.0 1905.6,258.0 1910.7,257.8 1915.8,256.1 1920.9,253.7 1926.2,256.9 1931.3,262.7 1936.4,268.6 1941.7,272.9 1946.8,269.0 1951.9,264.4 1957.2,265.4 1962.3,264.6 1967.4,258.0 1972.5,252.7 1977.9,254.6 1983.0,256.9 1988.1,256.1 1993.4,263.7 1998.5,273.3 2003.6,267.8 2008.9,257.6 2014.0,257.6 2019.1,265.2 2024.4,268.2 2029.5,260.5 2034.6,252.7 2039.7,253.7 2045.0,260.5 2050.1,266.9 2055.4,266.1 2060.5,261.6 2065.6,262.9 2070.9,264.8 2076.0,261.6 2081.1,259.1 2086.4,258.0 2091.5,257.6 2096.6,255.2 2101.9,256.7 2107.0,267.8 2112.8,272.9"/>
</g>
<filter id="gaa" x="0" y="0" width="2333" height="1750" filterUnits="userSpaceOnUse"><feOffset dx="0" dy="0"/></filter>
<g filter="url(#gaa)">
<text class="tt" y="96.2" style="font-size:70.90px"><tspan x="746.66" textLength="40.45" lengthAdjust="spacingAndGlyphs">6</tspan><tspan x="789.76" textLength="39.08" lengthAdjust="spacingAndGlyphs">0</tspan><tspan x="831.49" textLength="40.45" lengthAdjust="spacingAndGlyphs">6</tspan><tspan x="873.74" textLength="40.37" lengthAdjust="spacingAndGlyphs">9</tspan><tspan x="917.01" textLength="39.08" lengthAdjust="spacingAndGlyphs">0</tspan><tspan x="959.43" textLength="39.08" lengthAdjust="spacingAndGlyphs">0</tspan><tspan x="1001.84" textLength="39.08" lengthAdjust="spacingAndGlyphs">0</tspan><tspan x="1045.10" textLength="36.89" lengthAdjust="spacingAndGlyphs">5</tspan><tspan x="1086.67" textLength="39.09" lengthAdjust="spacingAndGlyphs">4</tspan><tspan x="1127.98" textLength="20.04" lengthAdjust="spacingAndGlyphs">.</tspan><tspan x="1149.25" textLength="51.26" lengthAdjust="spacingAndGlyphs">O</tspan><tspan x="1201.73" textLength="51.26" lengthAdjust="spacingAndGlyphs">O</tspan><tspan x="1254.12" textLength="20.04" lengthAdjust="spacingAndGlyphs">.</tspan><tspan x="1275.16" textLength="44.79" lengthAdjust="spacingAndGlyphs">A</tspan><tspan x="1320.86" textLength="44.50" lengthAdjust="spacingAndGlyphs">X</tspan><tspan x="1367.85" textLength="38.54" lengthAdjust="spacingAndGlyphs">E</tspan><tspan x="1408.77" textLength="44.69" lengthAdjust="spacingAndGlyphs">C</tspan><tspan x="1456.20" textLength="37.67" lengthAdjust="spacingAndGlyphs">2</tspan><tspan x="1497.68" textLength="20.04" lengthAdjust="spacingAndGlyphs">.</tspan><tspan x="1519.43" textLength="47.89" lengthAdjust="spacingAndGlyphs">H</tspan><tspan x="1569.56" textLength="47.89" lengthAdjust="spacingAndGlyphs">H</tspan><tspan x="1619.73" textLength="47.56" lengthAdjust="spacingAndGlyphs">N</tspan></text>
<text class="lb" y="243.0" style="font-size:44.50px"><tspan x="324.70" textLength="25.28" lengthAdjust="spacingAndGlyphs">6</tspan><tspan x="351.64" textLength="24.43" lengthAdjust="spacingAndGlyphs">0</tspan><tspan x="377.72" textLength="25.28" lengthAdjust="spacingAndGlyphs">6</tspan><tspan x="404.13" textLength="25.23" lengthAdjust="spacingAndGlyphs">9</tspan><tspan x="431.17" textLength="24.43" lengthAdjust="spacingAndGlyphs">0</tspan><tspan x="457.68" textLength="24.43" lengthAdjust="spacingAndGlyphs">0</tspan><tspan x="484.19" textLength="24.43" lengthAdjust="spacingAndGlyphs">0</tspan><tspan x="511.22" textLength="23.05" lengthAdjust="spacingAndGlyphs">5</tspan><tspan x="537.20" textLength="24.43" lengthAdjust="spacingAndGlyphs">4</tspan> <tspan x="577.41" textLength="11.08" lengthAdjust="spacingAndGlyphs">|</tspan> <tspan x="604.60" textLength="23.33" lengthAdjust="spacingAndGlyphs">1</tspan><tspan x="630.06" textLength="12.53" lengthAdjust="spacingAndGlyphs">.</tspan><tspan x="644.00" textLength="24.43" lengthAdjust="spacingAndGlyphs">0</tspan><tspan x="670.51" textLength="24.43" lengthAdjust="spacingAndGlyphs">0</tspan></text>
<text class="lb" y="375.9" style="font-size:44.50px"><tspan x="325.48" textLength="23.33" lengthAdjust="spacingAndGlyphs">1</tspan><tspan x="351.99" textLength="23.33" lengthAdjust="spacingAndGlyphs">1</tspan><tspan x="378.15" textLength="24.43" lengthAdjust="spacingAndGlyphs">0</tspan><tspan x="404.13" textLength="25.23" lengthAdjust="spacingAndGlyphs">9</tspan><tspan x="431.52" textLength="23.33" lengthAdjust="spacingAndGlyphs">1</tspan><tspan x="457.25" textLength="25.28" lengthAdjust="spacingAndGlyphs">6</tspan><tspan x="484.08" textLength="23.55" lengthAdjust="spacingAndGlyphs">2</tspan> <tspan x="524.39" textLength="11.08" lengthAdjust="spacingAndGlyphs">|</tspan> <tspan x="551.23" textLength="24.43" lengthAdjust="spacingAndGlyphs">0</tspan><tspan x="577.05" textLength="12.53" lengthAdjust="spacingAndGlyphs">.</tspan><tspan x="590.85" textLength="24.69" lengthAdjust="spacingAndGlyphs">8</tspan><tspan x="617.68" textLength="23.90" lengthAdjust="spacingAndGlyphs">7</tspan></text>
<text class="lb" y="508.8" style="font-size:44.50px"><tspan x="325.48" textLength="23.33" lengthAdjust="spacingAndGlyphs">1</tspan><tspan x="351.99" textLength="23.33" lengthAdjust="spacingAndGlyphs">1</tspan><tspan x="378.69" textLength="23.46" lengthAdjust="spacingAndGlyphs">3</tspan><tspan x="405.01" textLength="23.33" lengthAdjust="spacingAndGlyphs">1</tspan><tspan x="430.64" textLength="25.23" lengthAdjust="spacingAndGlyphs">9</tspan><tspan x="458.20" textLength="23.05" lengthAdjust="spacingAndGlyphs">5</tspan><tspan x="484.19" textLength="24.43" lengthAdjust="spacingAndGlyphs">4</tspan> <tspan x="524.39" textLength="11.08" lengthAdjust="spacingAndGlyphs">|</tspan> <tspan x="551.23" textLength="24.43" lengthAdjust="spacingAndGlyphs">0</tspan><tspan x="577.05" textLength="12.53" lengthAdjust="spacingAndGlyphs">.</tspan><tspan x="590.85" textLength="24.69" lengthAdjust="spacingAndGlyphs">8</tspan><tspan x="617.84" textLength="23.33" lengthAdjust="spacingAndGlyphs">1</tspan></text>
<text class="lb" y="641.8" style="font-size:44.50px"><tspan x="325.48" textLength="23.33" lengthAdjust="spacingAndGlyphs">1</tspan><tspan x="351.99" textLength="23.33" lengthAdjust="spacingAndGlyphs">1</tspan><tspan x="378.15" textLength="24.43" lengthAdjust="spacingAndGlyphs">0</tspan><tspan x="405.18" textLength="23.05" lengthAdjust="spacingAndGlyphs">5</tspan><tspan x="431.17" textLength="24.43" lengthAdjust="spacingAndGlyphs">4</tspan><tspan x="457.86" textLength="23.90" lengthAdjust="spacingAndGlyphs">7</tspan><tspan x="484.06" textLength="24.69" lengthAdjust="spacingAndGlyphs">8</tspan> <tspan x="524.39" textLength="11.08" lengthAdjust="spacingAndGlyphs">|</tspan> <tspan x="551.23" textLength="24.43" lengthAdjust="spacingAndGlyphs">0</tspan><tspan x="577.05" textLength="12.53" lengthAdjust="spacingAndGlyphs">.</tspan><tspan x="591.17" textLength="23.90" lengthAdjust="spacingAndGlyphs">7</tspan><tspan x="616.96" textLength="25.23" lengthAdjust="spacingAndGlyphs">9</tspan></text>
<text class="lb" y="774.7" style="font-size:44.50px"><tspan x="325.48" textLength="23.33" lengthAdjust="spacingAndGlyphs">1</tspan><tspan x="351.99" textLength="23.33" lengthAdjust="spacingAndGlyphs">1</tspan><tspan x="378.15" textLength="24.43" lengthAdjust="spacingAndGlyphs">0</tspan><tspan x="404.66" textLength="24.43" lengthAdjust="spacingAndGlyphs">4</tspan><tspan x="431.52" textLength="23.33" lengthAdjust="spacingAndGlyphs">1</tspan><tspan x="458.22" textLength="23.46" lengthAdjust="spacingAndGlyphs">3</tspan><tspan x="484.37" textLength="23.90" lengthAdjust="spacingAndGlyphs">7</tspan> <tspan x="524.39" textLength="11.08" lengthAdjust="spacingAndGlyphs">|</tspan> <tspan x="551.23" textLength="24.43" lengthAdjust="spacingAndGlyphs">0</tspan><tspan x="577.05" textLength="12.53" lengthAdjust="spacingAndGlyphs">.</tspan><tspan x="591.17" textLength="23.90" lengthAdjust="spacingAndGlyphs">7</tspan><tspan x="616.96" textLength="25.23" lengthAdjust="spacingAndGlyphs">9</tspan></text>
<text class="lb" y="907.6" style="font-size:44.50px"><tspan x="325.48" textLength="23.33" lengthAdjust="spacingAndGlyphs">1</tspan><tspan x="351.99" textLength="23.33" lengthAdjust="spacingAndGlyphs">1</tspan><tspan x="378.69" textLength="23.46" lengthAdjust="spacingAndGlyphs">3</tspan><tspan x="405.01" textLength="23.33" lengthAdjust="spacingAndGlyphs">1</tspan><tspan x="431.04" textLength="24.69" lengthAdjust="spacingAndGlyphs">8</tspan><tspan x="457.68" textLength="24.43" lengthAdjust="spacingAndGlyphs">4</tspan><tspan x="484.37" textLength="23.90" lengthAdjust="spacingAndGlyphs">7</tspan> <tspan x="524.39" textLength="11.08" lengthAdjust="spacingAndGlyphs">|</tspan> <tspan x="551.23" textLength="24.43" lengthAdjust="spacingAndGlyphs">0</tspan><tspan x="577.05" textLength="12.53" lengthAdjust="spacingAndGlyphs">.</tspan><tspan x="591.17" textLength="23.90" lengthAdjust="spacingAndGlyphs">7</tspan><tspan x="617.49" textLength="24.43" lengthAdjust="spacingAndGlyphs">4</tspan></text>
<text class="lb" y="1040.6" style="font-size:44.50px"><tspan x="325.48" textLength="23.33" lengthAdjust="spacingAndGlyphs">1</tspan><tspan x="351.64" textLength="24.43" lengthAdjust="spacingAndGlyphs">0</tspan><tspan x="377.62" textLength="25.23" lengthAdjust="spacingAndGlyphs">9</tspan><tspan x="404.23" textLength="25.28" lengthAdjust="spacingAndGlyphs">6</tspan><tspan x="431.69" textLength="23.05" lengthAdjust="spacingAndGlyphs">5</tspan><tspan x="458.20" textLength="23.05" lengthAdjust="spacingAndGlyphs">5</tspan><tspan x="484.73" textLength="23.46" lengthAdjust="spacingAndGlyphs">3</tspan> <tspan x="524.39" textLength="11.08" lengthAdjust="spacingAndGlyphs">|</tspan> <tspan x="551.23" textLength="24.43" lengthAdjust="spacingAndGlyphs">0</tspan><tspan x="577.05" textLength="12.53" lengthAdjust="spacingAndGlyphs">.</tspan><tspan x="591.17" textLength="23.90" lengthAdjust="spacingAndGlyphs">7</tspan><tspan x="617.38" textLength="23.55" lengthAdjust="spacingAndGlyphs">2</tspan></text>
<text class="lb" y="1173.5" style="font-size:44.50px"><tspan x="325.48" textLength="23.33" lengthAdjust="spacingAndGlyphs">1</tspan><tspan x="351.99" textLength="23.33" lengthAdjust="spacingAndGlyphs">1</tspan><tspan x="378.50" textLength="23.33" lengthAdjust="spacingAndGlyphs">1</tspan><tspan x="404.66" textLength="24.43" lengthAdjust="spacingAndGlyphs">4</tspan><tspan x="431.06" textLength="23.55" lengthAdjust="spacingAndGlyphs">2</tspan><tspan x="457.86" textLength="23.90" lengthAdjust="spacingAndGlyphs">7</tspan><tspan x="484.19" textLength="24.43" lengthAdjust="spacingAndGlyphs">4</tspan> <tspan x="524.39" textLength="11.08" lengthAdjust="spacingAndGlyphs">|</tspan> <tspan x="551.23" textLength="24.43" lengthAdjust="spacingAndGlyphs">0</tspan><tspan x="577.05" textLength="12.53" lengthAdjust="spacingAndGlyphs">.</tspan><tspan x="591.17" textLength="23.90" lengthAdjust="spacingAndGlyphs">7</tspan><tspan x="617.84" textLength="23.33" lengthAdjust="spacingAndGlyphs">1</tspan></text>
<text class="lb" y="1306.4" style="font-size:44.50px"><tspan x="325.48" textLength="23.33" lengthAdjust="spacingAndGlyphs">1</tspan><tspan x="351.64" textLength="24.43" lengthAdjust="spacingAndGlyphs">0</tspan><tspan x="377.72" textLength="25.28" lengthAdjust="spacingAndGlyphs">6</tspan><tspan x="404.13" textLength="25.23" lengthAdjust="spacingAndGlyphs">9</tspan><tspan x="431.04" textLength="24.69" lengthAdjust="spacingAndGlyphs">8</tspan><tspan x="457.15" textLength="25.23" lengthAdjust="spacingAndGlyphs">9</tspan><tspan x="484.37" textLength="23.90" lengthAdjust="spacingAndGlyphs">7</tspan> <tspan x="524.39" textLength="11.08" lengthAdjust="spacingAndGlyphs">|</tspan> <tspan x="551.23" textLength="24.43" lengthAdjust="spacingAndGlyphs">0</tspan><tspan x="577.05" textLength="12.53" lengthAdjust="spacingAndGlyphs">.</tspan><tspan x="591.17" textLength="23.90" lengthAdjust="spacingAndGlyphs">7</tspan><tspan x="617.84" textLength="23.33" lengthAdjust="spacingAndGlyphs">1</tspan></text>
<text class="tl" y="1617.0" style="font-size:44.50px"><tspan x="417.39" textLength="14.96" lengthAdjust="spacingAndGlyphs">-</tspan><tspan x="433.42" textLength="24.43" lengthAdjust="spacingAndGlyphs">0</tspan><tspan x="459.23" textLength="12.53" lengthAdjust="spacingAndGlyphs">.</tspan><tspan x="473.06" textLength="23.55" lengthAdjust="spacingAndGlyphs">2</tspan></text>
<text class="tl" y="1617.0" style="font-size:44.50px"><tspan x="652.08" textLength="24.43" lengthAdjust="spacingAndGlyphs">0</tspan></text>
<text class="tl" y="1617.0" style="font-size:44.50px"><tspan x="840.43" textLength="24.43" lengthAdjust="spacingAndGlyphs">0</tspan><tspan x="866.25" textLength="12.53" lengthAdjust="spacingAndGlyphs">.</tspan><tspan x="880.08" textLength="23.55" lengthAdjust="spacingAndGlyphs">2</tspan></text>
<text class="tl" y="1617.0" style="font-size:44.50px"><tspan x="1046.83" textLength="24.43" lengthAdjust="spacingAndGlyphs">0</tspan><tspan x="1072.65" textLength="12.53" lengthAdjust="spacingAndGlyphs">.</tspan><tspan x="1086.58" textLength="24.43" lengthAdjust="spacingAndGlyphs">4</tspan></text>
<text class="tl" y="1617.0" style="font-size:44.50px"><tspan x="1252.83" textLength="24.43" lengthAdjust="spacingAndGlyphs">0</tspan><tspan x="1278.65" textLength="12.53" lengthAdjust="spacingAndGlyphs">.</tspan><tspan x="1292.16" textLength="25.28" lengthAdjust="spacingAndGlyphs">6</tspan></text>
<text class="tl" y="1617.0" style="font-size:44.50px"><tspan x="1460.23" textLength="24.43" lengthAdjust="spacingAndGlyphs">0</tspan><tspan x="1486.05" textLength="12.53" lengthAdjust="spacingAndGlyphs">.</tspan><tspan x="1499.85" textLength="24.69" lengthAdjust="spacingAndGlyphs">8</tspan></text>
<text class="tl" y="1617.0" style="font-size:44.50px"><tspan x="1685.78" textLength="23.33" lengthAdjust="spacingAndGlyphs">1</tspan></text>
<text class="tl" y="1617.0" style="font-size:44.50px"><tspan x="1873.58" textLength="23.33" lengthAdjust="spacingAndGlyphs">1</tspan><tspan x="1899.05" textLength="12.53" lengthAdjust="spacingAndGlyphs">.</tspan><tspan x="1912.88" textLength="23.55" lengthAdjust="spacingAndGlyphs">2</tspan></text>
<text class="tl" y="1617.0" style="font-size:44.50px"><tspan x="2079.88" textLength="23.33" lengthAdjust="spacingAndGlyphs">1</tspan><tspan x="2105.35" textLength="12.53" lengthAdjust="spacingAndGlyphs">.</tspan><tspan x="2119.28" textLength="24.43" lengthAdjust="spacingAndGlyphs">4</tspan></text>
</g>
<line class="gm" x1="1254.6" y1="229.0" x2="1254.6" y2="295.4"/>
<line class="gm" x1="1250.6" y1="361.9" x2="1250.6" y2="428.3"/>
<line class="gm" x1="1255.0" y1="494.8" x2="1255.0" y2="561.2"/>
<line class="gm" x1="1249.5" y1="627.8" x2="1249.5" y2="694.2"/>
<line class="gm" x1="1245.5" y1="760.7" x2="1245.5" y2="827.1"/>
<line class="gm" x1="1255.1" y1="893.6" x2="1255.1" y2="960.0"/>
<line class="gm" x1="1266.0" y1="1026.6" x2="1266.0" y2="1093.0"/>
<line class="gm" x1="1259.1" y1="1159.5" x2="1259.1" y2="1225.9"/>
<line class="gm" x1="1259.1" y1="1292.4" x2="1259.1" y2="1358.8"/>
<line class="rm" x1="665.8" y1="229.0" x2="665.8" y2="295.4"/>
</svg>
</body>
</html>
